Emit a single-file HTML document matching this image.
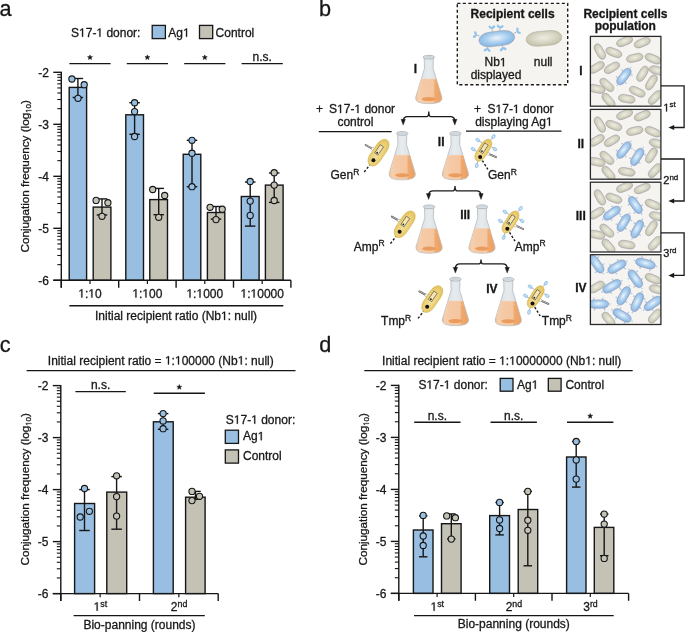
<!DOCTYPE html>
<html><head><meta charset="utf-8"><title>Figure</title>
<style>
html,body{margin:0;padding:0;background:#ffffff;width:685px;height:632px;overflow:hidden;}
svg{display:block;will-change:transform;}
text{font-family:"Liberation Sans",sans-serif;stroke:#1c1c1c;stroke-width:0.3px;}
tspan.o{fill:none;stroke:none;}
</style></head><body>
<svg width="685" height="632" viewBox="0 0 685 632">
<text x="-0.40" y="16.30" font-size="21.7" text-anchor="start" font-weight="normal" fill="#161616" >a</text>
<text x="319.00" y="16.10" font-size="21.7" text-anchor="start" font-weight="normal" fill="#161616" >b</text>
<text x="-0.20" y="351.60" font-size="21.7" text-anchor="start" font-weight="normal" fill="#161616" >c</text>
<text x="319.20" y="351.60" font-size="21.7" text-anchor="start" font-weight="normal" fill="#161616" >d</text>
<line x1="61.30" y1="71.70" x2="61.30" y2="287.70" stroke="#161616" stroke-width="1.4" />
<line x1="53.30" y1="280.30" x2="61.30" y2="280.30" stroke="#161616" stroke-width="1.4" />
<text x="49.00" y="284.70" font-size="12" text-anchor="end" font-weight="normal" fill="#161616" >-6</text>
<line x1="53.30" y1="228.30" x2="61.30" y2="228.30" stroke="#161616" stroke-width="1.4" />
<text x="49.00" y="232.70" font-size="12" text-anchor="end" font-weight="normal" fill="#161616" >-5</text>
<line x1="53.30" y1="176.30" x2="61.30" y2="176.30" stroke="#161616" stroke-width="1.4" />
<text x="49.00" y="180.70" font-size="12" text-anchor="end" font-weight="normal" fill="#161616" >-4</text>
<line x1="53.30" y1="124.30" x2="61.30" y2="124.30" stroke="#161616" stroke-width="1.4" />
<text x="49.00" y="128.70" font-size="12" text-anchor="end" font-weight="normal" fill="#161616" >-3</text>
<line x1="53.30" y1="72.30" x2="61.30" y2="72.30" stroke="#161616" stroke-width="1.4" />
<text x="49.00" y="76.70" font-size="12" text-anchor="end" font-weight="normal" fill="#161616" >-2</text>
<line x1="57.30" y1="264.65" x2="61.30" y2="264.65" stroke="#161616" stroke-width="1.1" />
<line x1="57.30" y1="255.49" x2="61.30" y2="255.49" stroke="#161616" stroke-width="1.1" />
<line x1="57.30" y1="248.99" x2="61.30" y2="248.99" stroke="#161616" stroke-width="1.1" />
<line x1="57.30" y1="243.95" x2="61.30" y2="243.95" stroke="#161616" stroke-width="1.1" />
<line x1="57.30" y1="239.84" x2="61.30" y2="239.84" stroke="#161616" stroke-width="1.1" />
<line x1="57.30" y1="236.35" x2="61.30" y2="236.35" stroke="#161616" stroke-width="1.1" />
<line x1="57.30" y1="233.34" x2="61.30" y2="233.34" stroke="#161616" stroke-width="1.1" />
<line x1="57.30" y1="230.68" x2="61.30" y2="230.68" stroke="#161616" stroke-width="1.1" />
<line x1="57.30" y1="212.65" x2="61.30" y2="212.65" stroke="#161616" stroke-width="1.1" />
<line x1="57.30" y1="203.49" x2="61.30" y2="203.49" stroke="#161616" stroke-width="1.1" />
<line x1="57.30" y1="196.99" x2="61.30" y2="196.99" stroke="#161616" stroke-width="1.1" />
<line x1="57.30" y1="191.95" x2="61.30" y2="191.95" stroke="#161616" stroke-width="1.1" />
<line x1="57.30" y1="187.84" x2="61.30" y2="187.84" stroke="#161616" stroke-width="1.1" />
<line x1="57.30" y1="184.35" x2="61.30" y2="184.35" stroke="#161616" stroke-width="1.1" />
<line x1="57.30" y1="181.34" x2="61.30" y2="181.34" stroke="#161616" stroke-width="1.1" />
<line x1="57.30" y1="178.68" x2="61.30" y2="178.68" stroke="#161616" stroke-width="1.1" />
<line x1="57.30" y1="160.65" x2="61.30" y2="160.65" stroke="#161616" stroke-width="1.1" />
<line x1="57.30" y1="151.49" x2="61.30" y2="151.49" stroke="#161616" stroke-width="1.1" />
<line x1="57.30" y1="144.99" x2="61.30" y2="144.99" stroke="#161616" stroke-width="1.1" />
<line x1="57.30" y1="139.95" x2="61.30" y2="139.95" stroke="#161616" stroke-width="1.1" />
<line x1="57.30" y1="135.84" x2="61.30" y2="135.84" stroke="#161616" stroke-width="1.1" />
<line x1="57.30" y1="132.35" x2="61.30" y2="132.35" stroke="#161616" stroke-width="1.1" />
<line x1="57.30" y1="129.34" x2="61.30" y2="129.34" stroke="#161616" stroke-width="1.1" />
<line x1="57.30" y1="126.68" x2="61.30" y2="126.68" stroke="#161616" stroke-width="1.1" />
<line x1="57.30" y1="108.65" x2="61.30" y2="108.65" stroke="#161616" stroke-width="1.1" />
<line x1="57.30" y1="99.49" x2="61.30" y2="99.49" stroke="#161616" stroke-width="1.1" />
<line x1="57.30" y1="92.99" x2="61.30" y2="92.99" stroke="#161616" stroke-width="1.1" />
<line x1="57.30" y1="87.95" x2="61.30" y2="87.95" stroke="#161616" stroke-width="1.1" />
<line x1="57.30" y1="83.84" x2="61.30" y2="83.84" stroke="#161616" stroke-width="1.1" />
<line x1="57.30" y1="80.35" x2="61.30" y2="80.35" stroke="#161616" stroke-width="1.1" />
<line x1="57.30" y1="77.34" x2="61.30" y2="77.34" stroke="#161616" stroke-width="1.1" />
<line x1="57.30" y1="74.68" x2="61.30" y2="74.68" stroke="#161616" stroke-width="1.1" />
<text transform="translate(29.00,176.30) rotate(-90)" font-size="11.7" text-anchor="middle" fill="#161616">Conjugation frequency (log<tspan font-size="8" dy="2.4"><tspan class="o">1</tspan>0</tspan><tspan dy="-2.4">)</tspan></text>
<rect x="69.20" y="87.40" width="17.40" height="192.90" fill="#98bee1" stroke="#161616" stroke-width="1.4"/>
<rect x="93.20" y="207.10" width="17.70" height="73.20" fill="#c4c1b5" stroke="#161616" stroke-width="1.4"/>
<rect x="125.80" y="114.80" width="17.70" height="165.50" fill="#98bee1" stroke="#161616" stroke-width="1.4"/>
<rect x="149.80" y="199.60" width="17.70" height="80.70" fill="#c4c1b5" stroke="#161616" stroke-width="1.4"/>
<rect x="183.20" y="154.30" width="17.60" height="126.00" fill="#98bee1" stroke="#161616" stroke-width="1.4"/>
<rect x="207.40" y="212.50" width="17.40" height="67.80" fill="#c4c1b5" stroke="#161616" stroke-width="1.4"/>
<rect x="241.30" y="196.50" width="17.80" height="83.80" fill="#98bee1" stroke="#161616" stroke-width="1.4"/>
<rect x="265.40" y="185.10" width="17.70" height="95.20" fill="#c4c1b5" stroke="#161616" stroke-width="1.4"/>
<line x1="53.30" y1="280.30" x2="290.90" y2="280.30" stroke="#161616" stroke-width="1.4" />
<line x1="61.30" y1="280.30" x2="61.30" y2="287.70" stroke="#161616" stroke-width="1.4" />
<line x1="118.70" y1="280.30" x2="118.70" y2="287.70" stroke="#161616" stroke-width="1.4" />
<line x1="176.10" y1="280.30" x2="176.10" y2="287.70" stroke="#161616" stroke-width="1.4" />
<line x1="233.50" y1="280.30" x2="233.50" y2="287.70" stroke="#161616" stroke-width="1.4" />
<line x1="290.90" y1="280.30" x2="290.90" y2="287.70" stroke="#161616" stroke-width="1.4" />
<line x1="90.00" y1="280.30" x2="90.00" y2="283.90" stroke="#161616" stroke-width="1.2" />
<line x1="147.40" y1="280.30" x2="147.40" y2="283.90" stroke="#161616" stroke-width="1.2" />
<line x1="204.80" y1="280.30" x2="204.80" y2="283.90" stroke="#161616" stroke-width="1.2" />
<line x1="262.20" y1="280.30" x2="262.20" y2="283.90" stroke="#161616" stroke-width="1.2" />
<line x1="77.90" y1="78.50" x2="77.90" y2="97.50" stroke="#161616" stroke-width="1.4" />
<line x1="72.65" y1="78.50" x2="83.15" y2="78.50" stroke="#161616" stroke-width="1.4" />
<line x1="72.65" y1="97.50" x2="83.15" y2="97.50" stroke="#161616" stroke-width="1.4" />
<circle cx="71.90" cy="79.00" r="3.1" fill="#98bee1" stroke="#161616" stroke-width="1.1"/>
<circle cx="84.20" cy="84.70" r="3.1" fill="#98bee1" stroke="#161616" stroke-width="1.1"/>
<circle cx="78.00" cy="98.30" r="3.1" fill="#98bee1" stroke="#161616" stroke-width="1.1"/>
<line x1="102.00" y1="198.90" x2="102.00" y2="215.00" stroke="#161616" stroke-width="1.4" />
<line x1="96.75" y1="198.90" x2="107.25" y2="198.90" stroke="#161616" stroke-width="1.4" />
<line x1="96.75" y1="215.00" x2="107.25" y2="215.00" stroke="#161616" stroke-width="1.4" />
<circle cx="96.10" cy="200.40" r="3.1" fill="#c4c1b5" stroke="#161616" stroke-width="1.1"/>
<circle cx="107.90" cy="202.70" r="3.1" fill="#c4c1b5" stroke="#161616" stroke-width="1.1"/>
<circle cx="102.00" cy="216.30" r="3.1" fill="#c4c1b5" stroke="#161616" stroke-width="1.1"/>
<line x1="134.60" y1="102.70" x2="134.60" y2="134.30" stroke="#161616" stroke-width="1.4" />
<line x1="129.35" y1="102.70" x2="139.85" y2="102.70" stroke="#161616" stroke-width="1.4" />
<line x1="129.35" y1="134.30" x2="139.85" y2="134.30" stroke="#161616" stroke-width="1.4" />
<circle cx="134.60" cy="102.70" r="3.1" fill="#98bee1" stroke="#161616" stroke-width="1.1"/>
<circle cx="134.60" cy="111.60" r="3.1" fill="#98bee1" stroke="#161616" stroke-width="1.1"/>
<circle cx="134.60" cy="136.50" r="3.1" fill="#98bee1" stroke="#161616" stroke-width="1.1"/>
<line x1="158.70" y1="188.40" x2="158.70" y2="214.70" stroke="#161616" stroke-width="1.4" />
<line x1="153.45" y1="188.40" x2="163.95" y2="188.40" stroke="#161616" stroke-width="1.4" />
<line x1="153.45" y1="214.70" x2="163.95" y2="214.70" stroke="#161616" stroke-width="1.4" />
<circle cx="152.70" cy="189.50" r="3.1" fill="#c4c1b5" stroke="#161616" stroke-width="1.1"/>
<circle cx="164.70" cy="195.50" r="3.1" fill="#c4c1b5" stroke="#161616" stroke-width="1.1"/>
<circle cx="158.70" cy="217.30" r="3.1" fill="#c4c1b5" stroke="#161616" stroke-width="1.1"/>
<line x1="192.00" y1="140.30" x2="192.00" y2="186.70" stroke="#161616" stroke-width="1.4" />
<line x1="186.75" y1="140.30" x2="197.25" y2="140.30" stroke="#161616" stroke-width="1.4" />
<line x1="186.75" y1="186.70" x2="197.25" y2="186.70" stroke="#161616" stroke-width="1.4" />
<circle cx="192.00" cy="140.30" r="3.1" fill="#98bee1" stroke="#161616" stroke-width="1.1"/>
<circle cx="192.00" cy="153.20" r="3.1" fill="#98bee1" stroke="#161616" stroke-width="1.1"/>
<circle cx="192.00" cy="186.70" r="3.1" fill="#98bee1" stroke="#161616" stroke-width="1.1"/>
<line x1="216.00" y1="206.50" x2="216.00" y2="219.10" stroke="#161616" stroke-width="1.4" />
<line x1="210.75" y1="206.50" x2="221.25" y2="206.50" stroke="#161616" stroke-width="1.4" />
<line x1="210.75" y1="219.10" x2="221.25" y2="219.10" stroke="#161616" stroke-width="1.4" />
<circle cx="210.10" cy="207.30" r="3.1" fill="#c4c1b5" stroke="#161616" stroke-width="1.1"/>
<circle cx="222.20" cy="209.20" r="3.1" fill="#c4c1b5" stroke="#161616" stroke-width="1.1"/>
<circle cx="216.00" cy="219.60" r="3.1" fill="#c4c1b5" stroke="#161616" stroke-width="1.1"/>
<line x1="250.20" y1="182.00" x2="250.20" y2="226.10" stroke="#161616" stroke-width="1.4" />
<line x1="244.95" y1="182.00" x2="255.45" y2="182.00" stroke="#161616" stroke-width="1.4" />
<line x1="244.95" y1="226.10" x2="255.45" y2="226.10" stroke="#161616" stroke-width="1.4" />
<circle cx="250.20" cy="181.50" r="3.1" fill="#98bee1" stroke="#161616" stroke-width="1.1"/>
<circle cx="250.20" cy="201.10" r="3.1" fill="#98bee1" stroke="#161616" stroke-width="1.1"/>
<circle cx="250.20" cy="215.40" r="3.1" fill="#98bee1" stroke="#161616" stroke-width="1.1"/>
<line x1="274.20" y1="173.00" x2="274.20" y2="202.40" stroke="#161616" stroke-width="1.4" />
<line x1="268.95" y1="173.00" x2="279.45" y2="173.00" stroke="#161616" stroke-width="1.4" />
<line x1="268.95" y1="202.40" x2="279.45" y2="202.40" stroke="#161616" stroke-width="1.4" />
<circle cx="274.20" cy="172.70" r="3.1" fill="#c4c1b5" stroke="#161616" stroke-width="1.1"/>
<circle cx="274.20" cy="185.10" r="3.1" fill="#c4c1b5" stroke="#161616" stroke-width="1.1"/>
<circle cx="274.20" cy="200.50" r="3.1" fill="#c4c1b5" stroke="#161616" stroke-width="1.1"/>
<text x="90.00" y="297.60" font-size="12" text-anchor="middle" font-weight="normal" fill="#161616" ><tspan class="o">1</tspan>:<tspan class="o">1</tspan>0</text>
<text x="147.40" y="297.60" font-size="12" text-anchor="middle" font-weight="normal" fill="#161616" ><tspan class="o">1</tspan>:<tspan class="o">1</tspan>00</text>
<text x="204.80" y="297.60" font-size="12" text-anchor="middle" font-weight="normal" fill="#161616" ><tspan class="o">1</tspan>:<tspan class="o">1</tspan>000</text>
<text x="262.20" y="297.60" font-size="12" text-anchor="middle" font-weight="normal" fill="#161616" ><tspan class="o">1</tspan>:<tspan class="o">1</tspan>0000</text>
<line x1="69.40" y1="305.70" x2="283.30" y2="305.70" stroke="#161616" stroke-width="1.4" />
<text x="176.00" y="319.90" font-size="12" text-anchor="middle" font-weight="normal" fill="#161616" >Initial recipient ratio (Nb<tspan class="o">1</tspan>: null)</text>
<text x="71.00" y="36.80" font-size="12" text-anchor="start" font-weight="normal" fill="#161616" >S<tspan class="o">1</tspan>7-<tspan class="o">1</tspan> donor:</text>
<rect x="152.20" y="25.40" width="13.2" height="13.2" fill="#98bee1" stroke="#161616" stroke-width="1.3"/>
<text x="168.30" y="36.80" font-size="12" text-anchor="start" font-weight="normal" fill="#161616" >Ag<tspan class="o">1</tspan></text>
<rect x="199.50" y="25.40" width="13.2" height="13.2" fill="#c4c1b5" stroke="#161616" stroke-width="1.3"/>
<text x="215.60" y="36.80" font-size="12" text-anchor="start" font-weight="normal" fill="#161616" >Control</text>
<line x1="69.40" y1="63.60" x2="110.60" y2="63.60" stroke="#161616" stroke-width="1.4" />
<polygon points="90.00,54.90 90.66,56.59 92.47,56.70 91.07,57.85 91.53,59.60 90.00,58.62 88.47,59.60 88.93,57.85 87.53,56.70 89.34,56.59" fill="#161616" stroke="#161616" stroke-width="0.5" stroke-linejoin="round"/>
<line x1="126.80" y1="63.60" x2="168.00" y2="63.60" stroke="#161616" stroke-width="1.4" />
<polygon points="147.40,54.90 148.06,56.59 149.87,56.70 148.47,57.85 148.93,59.60 147.40,58.62 145.87,59.60 146.33,57.85 144.93,56.70 146.74,56.59" fill="#161616" stroke="#161616" stroke-width="0.5" stroke-linejoin="round"/>
<line x1="184.20" y1="63.60" x2="225.40" y2="63.60" stroke="#161616" stroke-width="1.4" />
<polygon points="204.80,54.90 205.46,56.59 207.27,56.70 205.87,57.85 206.33,59.60 204.80,58.62 203.27,59.60 203.73,57.85 202.33,56.70 204.14,56.59" fill="#161616" stroke="#161616" stroke-width="0.5" stroke-linejoin="round"/>
<line x1="241.60" y1="63.60" x2="282.80" y2="63.60" stroke="#161616" stroke-width="1.4" />
<text x="262.20" y="61.00" font-size="12" text-anchor="middle" font-weight="normal" fill="#161616" >n.s.</text>
<line x1="60.80" y1="385.00" x2="60.80" y2="601.00" stroke="#161616" stroke-width="1.4" />
<line x1="52.80" y1="593.60" x2="60.80" y2="593.60" stroke="#161616" stroke-width="1.4" />
<text x="48.50" y="598.00" font-size="12" text-anchor="end" font-weight="normal" fill="#161616" >-6</text>
<line x1="52.80" y1="541.60" x2="60.80" y2="541.60" stroke="#161616" stroke-width="1.4" />
<text x="48.50" y="546.00" font-size="12" text-anchor="end" font-weight="normal" fill="#161616" >-5</text>
<line x1="52.80" y1="489.60" x2="60.80" y2="489.60" stroke="#161616" stroke-width="1.4" />
<text x="48.50" y="494.00" font-size="12" text-anchor="end" font-weight="normal" fill="#161616" >-4</text>
<line x1="52.80" y1="437.60" x2="60.80" y2="437.60" stroke="#161616" stroke-width="1.4" />
<text x="48.50" y="442.00" font-size="12" text-anchor="end" font-weight="normal" fill="#161616" >-3</text>
<line x1="52.80" y1="385.60" x2="60.80" y2="385.60" stroke="#161616" stroke-width="1.4" />
<text x="48.50" y="390.00" font-size="12" text-anchor="end" font-weight="normal" fill="#161616" >-2</text>
<line x1="56.80" y1="577.95" x2="60.80" y2="577.95" stroke="#161616" stroke-width="1.1" />
<line x1="56.80" y1="568.79" x2="60.80" y2="568.79" stroke="#161616" stroke-width="1.1" />
<line x1="56.80" y1="562.29" x2="60.80" y2="562.29" stroke="#161616" stroke-width="1.1" />
<line x1="56.80" y1="557.25" x2="60.80" y2="557.25" stroke="#161616" stroke-width="1.1" />
<line x1="56.80" y1="553.14" x2="60.80" y2="553.14" stroke="#161616" stroke-width="1.1" />
<line x1="56.80" y1="549.65" x2="60.80" y2="549.65" stroke="#161616" stroke-width="1.1" />
<line x1="56.80" y1="546.64" x2="60.80" y2="546.64" stroke="#161616" stroke-width="1.1" />
<line x1="56.80" y1="543.98" x2="60.80" y2="543.98" stroke="#161616" stroke-width="1.1" />
<line x1="56.80" y1="525.95" x2="60.80" y2="525.95" stroke="#161616" stroke-width="1.1" />
<line x1="56.80" y1="516.79" x2="60.80" y2="516.79" stroke="#161616" stroke-width="1.1" />
<line x1="56.80" y1="510.29" x2="60.80" y2="510.29" stroke="#161616" stroke-width="1.1" />
<line x1="56.80" y1="505.25" x2="60.80" y2="505.25" stroke="#161616" stroke-width="1.1" />
<line x1="56.80" y1="501.14" x2="60.80" y2="501.14" stroke="#161616" stroke-width="1.1" />
<line x1="56.80" y1="497.65" x2="60.80" y2="497.65" stroke="#161616" stroke-width="1.1" />
<line x1="56.80" y1="494.64" x2="60.80" y2="494.64" stroke="#161616" stroke-width="1.1" />
<line x1="56.80" y1="491.98" x2="60.80" y2="491.98" stroke="#161616" stroke-width="1.1" />
<line x1="56.80" y1="473.95" x2="60.80" y2="473.95" stroke="#161616" stroke-width="1.1" />
<line x1="56.80" y1="464.79" x2="60.80" y2="464.79" stroke="#161616" stroke-width="1.1" />
<line x1="56.80" y1="458.29" x2="60.80" y2="458.29" stroke="#161616" stroke-width="1.1" />
<line x1="56.80" y1="453.25" x2="60.80" y2="453.25" stroke="#161616" stroke-width="1.1" />
<line x1="56.80" y1="449.14" x2="60.80" y2="449.14" stroke="#161616" stroke-width="1.1" />
<line x1="56.80" y1="445.65" x2="60.80" y2="445.65" stroke="#161616" stroke-width="1.1" />
<line x1="56.80" y1="442.64" x2="60.80" y2="442.64" stroke="#161616" stroke-width="1.1" />
<line x1="56.80" y1="439.98" x2="60.80" y2="439.98" stroke="#161616" stroke-width="1.1" />
<line x1="56.80" y1="421.95" x2="60.80" y2="421.95" stroke="#161616" stroke-width="1.1" />
<line x1="56.80" y1="412.79" x2="60.80" y2="412.79" stroke="#161616" stroke-width="1.1" />
<line x1="56.80" y1="406.29" x2="60.80" y2="406.29" stroke="#161616" stroke-width="1.1" />
<line x1="56.80" y1="401.25" x2="60.80" y2="401.25" stroke="#161616" stroke-width="1.1" />
<line x1="56.80" y1="397.14" x2="60.80" y2="397.14" stroke="#161616" stroke-width="1.1" />
<line x1="56.80" y1="393.65" x2="60.80" y2="393.65" stroke="#161616" stroke-width="1.1" />
<line x1="56.80" y1="390.64" x2="60.80" y2="390.64" stroke="#161616" stroke-width="1.1" />
<line x1="56.80" y1="387.98" x2="60.80" y2="387.98" stroke="#161616" stroke-width="1.1" />
<text transform="translate(29.00,489.30) rotate(-90)" font-size="11.7" text-anchor="middle" fill="#161616">Conjugation frequency (log<tspan font-size="8" dy="2.4"><tspan class="o">1</tspan>0</tspan><tspan dy="-2.4">)</tspan></text>
<rect x="74.60" y="503.50" width="20.00" height="90.10" fill="#98bee1" stroke="#161616" stroke-width="1.4"/>
<rect x="106.80" y="492.10" width="19.90" height="101.50" fill="#c4c1b5" stroke="#161616" stroke-width="1.4"/>
<rect x="153.40" y="421.80" width="19.80" height="171.80" fill="#98bee1" stroke="#161616" stroke-width="1.4"/>
<rect x="185.60" y="497.20" width="19.50" height="96.40" fill="#c4c1b5" stroke="#161616" stroke-width="1.4"/>
<line x1="52.80" y1="593.60" x2="218.20" y2="593.60" stroke="#161616" stroke-width="1.4" />
<line x1="60.80" y1="593.60" x2="60.80" y2="601.00" stroke="#161616" stroke-width="1.4" />
<line x1="139.50" y1="593.60" x2="139.50" y2="601.00" stroke="#161616" stroke-width="1.4" />
<line x1="218.20" y1="593.60" x2="218.20" y2="601.00" stroke="#161616" stroke-width="1.4" />
<line x1="100.15" y1="593.60" x2="100.15" y2="597.20" stroke="#161616" stroke-width="1.2" />
<line x1="178.85" y1="593.60" x2="178.85" y2="597.20" stroke="#161616" stroke-width="1.2" />
<line x1="84.50" y1="489.60" x2="84.50" y2="530.50" stroke="#161616" stroke-width="1.4" />
<line x1="79.25" y1="489.60" x2="89.75" y2="489.60" stroke="#161616" stroke-width="1.4" />
<line x1="79.25" y1="530.50" x2="89.75" y2="530.50" stroke="#161616" stroke-width="1.4" />
<circle cx="84.50" cy="488.50" r="3.1" fill="#98bee1" stroke="#161616" stroke-width="1.1"/>
<circle cx="89.40" cy="511.30" r="3.1" fill="#98bee1" stroke="#161616" stroke-width="1.1"/>
<circle cx="80.20" cy="517.00" r="3.1" fill="#98bee1" stroke="#161616" stroke-width="1.1"/>
<line x1="116.60" y1="476.60" x2="116.60" y2="529.20" stroke="#161616" stroke-width="1.4" />
<line x1="111.35" y1="476.60" x2="121.85" y2="476.60" stroke="#161616" stroke-width="1.4" />
<line x1="111.35" y1="529.20" x2="121.85" y2="529.20" stroke="#161616" stroke-width="1.4" />
<circle cx="116.60" cy="475.80" r="3.1" fill="#c4c1b5" stroke="#161616" stroke-width="1.1"/>
<circle cx="116.60" cy="496.60" r="3.1" fill="#c4c1b5" stroke="#161616" stroke-width="1.1"/>
<circle cx="116.60" cy="516.10" r="3.1" fill="#c4c1b5" stroke="#161616" stroke-width="1.1"/>
<line x1="163.10" y1="413.60" x2="163.10" y2="429.30" stroke="#161616" stroke-width="1.4" />
<line x1="157.85" y1="413.60" x2="168.35" y2="413.60" stroke="#161616" stroke-width="1.4" />
<line x1="157.85" y1="429.30" x2="168.35" y2="429.30" stroke="#161616" stroke-width="1.4" />
<circle cx="163.10" cy="413.60" r="3.1" fill="#98bee1" stroke="#161616" stroke-width="1.1"/>
<circle cx="163.10" cy="420.90" r="3.1" fill="#98bee1" stroke="#161616" stroke-width="1.1"/>
<circle cx="163.10" cy="428.70" r="3.1" fill="#98bee1" stroke="#161616" stroke-width="1.1"/>
<line x1="195.50" y1="491.40" x2="195.50" y2="499.30" stroke="#161616" stroke-width="1.4" />
<line x1="190.25" y1="491.40" x2="200.75" y2="491.40" stroke="#161616" stroke-width="1.4" />
<line x1="190.25" y1="499.30" x2="200.75" y2="499.30" stroke="#161616" stroke-width="1.4" />
<circle cx="192.00" cy="491.40" r="3.1" fill="#c4c1b5" stroke="#161616" stroke-width="1.1"/>
<circle cx="199.50" cy="496.30" r="3.1" fill="#c4c1b5" stroke="#161616" stroke-width="1.1"/>
<circle cx="192.00" cy="500.60" r="3.1" fill="#c4c1b5" stroke="#161616" stroke-width="1.1"/>
<text x="100.35" y="610.70" font-size="12" text-anchor="middle" fill="#161616"><tspan class="o">1</tspan><tspan font-size="8.8" dy="-4.0">st</tspan></text>
<text x="179.05" y="610.70" font-size="12" text-anchor="middle" fill="#161616">2<tspan font-size="8.8" dy="-4.0">nd</tspan></text>
<line x1="73.60" y1="615.60" x2="204.80" y2="615.60" stroke="#161616" stroke-width="1.4" />
<text x="139.50" y="628.60" font-size="12" text-anchor="middle" font-weight="normal" fill="#161616" >Bio-panning (rounds)</text>
<text x="160.80" y="364.50" font-size="12" text-anchor="middle" font-weight="normal" fill="#161616" >Initial recipient ratio = <tspan class="o">1</tspan>:<tspan class="o">1</tspan>00000 (Nb<tspan class="o">1</tspan>: null)</text>
<line x1="26.60" y1="370.60" x2="295.50" y2="370.60" stroke="#161616" stroke-width="1.4" />
<line x1="75.40" y1="391.60" x2="125.80" y2="391.60" stroke="#161616" stroke-width="1.4" />
<text x="100.60" y="389.00" font-size="12" text-anchor="middle" font-weight="normal" fill="#161616" >n.s.</text>
<line x1="153.70" y1="393.30" x2="204.90" y2="393.30" stroke="#161616" stroke-width="1.4" />
<polygon points="179.30,384.60 179.96,386.29 181.77,386.40 180.37,387.55 180.83,389.30 179.30,388.32 177.77,389.30 178.23,387.55 176.83,386.40 178.64,386.29" fill="#161616" stroke="#161616" stroke-width="0.5" stroke-linejoin="round"/>
<text x="225.80" y="423.70" font-size="12" text-anchor="start" font-weight="normal" fill="#161616" >S<tspan class="o">1</tspan>7-<tspan class="o">1</tspan> donor:</text>
<rect x="225.30" y="430.20" width="13.2" height="13.2" fill="#98bee1" stroke="#161616" stroke-width="1.3"/>
<text x="243.00" y="440.20" font-size="12" text-anchor="start" font-weight="normal" fill="#161616" >Ag<tspan class="o">1</tspan></text>
<rect x="225.30" y="449.90" width="13.2" height="13.2" fill="#c4c1b5" stroke="#161616" stroke-width="1.3"/>
<text x="243.00" y="460.10" font-size="12" text-anchor="start" font-weight="normal" fill="#161616" >Control</text>
<line x1="398.80" y1="384.80" x2="398.80" y2="600.80" stroke="#161616" stroke-width="1.4" />
<line x1="390.80" y1="593.40" x2="398.80" y2="593.40" stroke="#161616" stroke-width="1.4" />
<text x="386.50" y="597.80" font-size="12" text-anchor="end" font-weight="normal" fill="#161616" >-6</text>
<line x1="390.80" y1="541.40" x2="398.80" y2="541.40" stroke="#161616" stroke-width="1.4" />
<text x="386.50" y="545.80" font-size="12" text-anchor="end" font-weight="normal" fill="#161616" >-5</text>
<line x1="390.80" y1="489.40" x2="398.80" y2="489.40" stroke="#161616" stroke-width="1.4" />
<text x="386.50" y="493.80" font-size="12" text-anchor="end" font-weight="normal" fill="#161616" >-4</text>
<line x1="390.80" y1="437.40" x2="398.80" y2="437.40" stroke="#161616" stroke-width="1.4" />
<text x="386.50" y="441.80" font-size="12" text-anchor="end" font-weight="normal" fill="#161616" >-3</text>
<line x1="390.80" y1="385.40" x2="398.80" y2="385.40" stroke="#161616" stroke-width="1.4" />
<text x="386.50" y="389.80" font-size="12" text-anchor="end" font-weight="normal" fill="#161616" >-2</text>
<line x1="394.80" y1="577.75" x2="398.80" y2="577.75" stroke="#161616" stroke-width="1.1" />
<line x1="394.80" y1="568.59" x2="398.80" y2="568.59" stroke="#161616" stroke-width="1.1" />
<line x1="394.80" y1="562.09" x2="398.80" y2="562.09" stroke="#161616" stroke-width="1.1" />
<line x1="394.80" y1="557.05" x2="398.80" y2="557.05" stroke="#161616" stroke-width="1.1" />
<line x1="394.80" y1="552.94" x2="398.80" y2="552.94" stroke="#161616" stroke-width="1.1" />
<line x1="394.80" y1="549.45" x2="398.80" y2="549.45" stroke="#161616" stroke-width="1.1" />
<line x1="394.80" y1="546.44" x2="398.80" y2="546.44" stroke="#161616" stroke-width="1.1" />
<line x1="394.80" y1="543.78" x2="398.80" y2="543.78" stroke="#161616" stroke-width="1.1" />
<line x1="394.80" y1="525.75" x2="398.80" y2="525.75" stroke="#161616" stroke-width="1.1" />
<line x1="394.80" y1="516.59" x2="398.80" y2="516.59" stroke="#161616" stroke-width="1.1" />
<line x1="394.80" y1="510.09" x2="398.80" y2="510.09" stroke="#161616" stroke-width="1.1" />
<line x1="394.80" y1="505.05" x2="398.80" y2="505.05" stroke="#161616" stroke-width="1.1" />
<line x1="394.80" y1="500.94" x2="398.80" y2="500.94" stroke="#161616" stroke-width="1.1" />
<line x1="394.80" y1="497.45" x2="398.80" y2="497.45" stroke="#161616" stroke-width="1.1" />
<line x1="394.80" y1="494.44" x2="398.80" y2="494.44" stroke="#161616" stroke-width="1.1" />
<line x1="394.80" y1="491.78" x2="398.80" y2="491.78" stroke="#161616" stroke-width="1.1" />
<line x1="394.80" y1="473.75" x2="398.80" y2="473.75" stroke="#161616" stroke-width="1.1" />
<line x1="394.80" y1="464.59" x2="398.80" y2="464.59" stroke="#161616" stroke-width="1.1" />
<line x1="394.80" y1="458.09" x2="398.80" y2="458.09" stroke="#161616" stroke-width="1.1" />
<line x1="394.80" y1="453.05" x2="398.80" y2="453.05" stroke="#161616" stroke-width="1.1" />
<line x1="394.80" y1="448.94" x2="398.80" y2="448.94" stroke="#161616" stroke-width="1.1" />
<line x1="394.80" y1="445.45" x2="398.80" y2="445.45" stroke="#161616" stroke-width="1.1" />
<line x1="394.80" y1="442.44" x2="398.80" y2="442.44" stroke="#161616" stroke-width="1.1" />
<line x1="394.80" y1="439.78" x2="398.80" y2="439.78" stroke="#161616" stroke-width="1.1" />
<line x1="394.80" y1="421.75" x2="398.80" y2="421.75" stroke="#161616" stroke-width="1.1" />
<line x1="394.80" y1="412.59" x2="398.80" y2="412.59" stroke="#161616" stroke-width="1.1" />
<line x1="394.80" y1="406.09" x2="398.80" y2="406.09" stroke="#161616" stroke-width="1.1" />
<line x1="394.80" y1="401.05" x2="398.80" y2="401.05" stroke="#161616" stroke-width="1.1" />
<line x1="394.80" y1="396.94" x2="398.80" y2="396.94" stroke="#161616" stroke-width="1.1" />
<line x1="394.80" y1="393.45" x2="398.80" y2="393.45" stroke="#161616" stroke-width="1.1" />
<line x1="394.80" y1="390.44" x2="398.80" y2="390.44" stroke="#161616" stroke-width="1.1" />
<line x1="394.80" y1="387.78" x2="398.80" y2="387.78" stroke="#161616" stroke-width="1.1" />
<text transform="translate(366.60,489.30) rotate(-90)" font-size="11.7" text-anchor="middle" fill="#161616">Conjugation frequency (log<tspan font-size="8" dy="2.4"><tspan class="o">1</tspan>0</tspan><tspan dy="-2.4">)</tspan></text>
<rect x="413.40" y="530.00" width="19.60" height="63.40" fill="#98bee1" stroke="#161616" stroke-width="1.4"/>
<rect x="441.50" y="523.70" width="19.60" height="69.70" fill="#c4c1b5" stroke="#161616" stroke-width="1.4"/>
<rect x="489.70" y="515.60" width="19.80" height="77.80" fill="#98bee1" stroke="#161616" stroke-width="1.4"/>
<rect x="518.20" y="509.50" width="19.50" height="83.90" fill="#c4c1b5" stroke="#161616" stroke-width="1.4"/>
<rect x="566.60" y="457.00" width="19.40" height="136.40" fill="#98bee1" stroke="#161616" stroke-width="1.4"/>
<rect x="594.30" y="527.40" width="19.50" height="66.00" fill="#c4c1b5" stroke="#161616" stroke-width="1.4"/>
<line x1="390.80" y1="593.40" x2="628.60" y2="593.40" stroke="#161616" stroke-width="1.4" />
<line x1="398.80" y1="593.40" x2="398.80" y2="600.80" stroke="#161616" stroke-width="1.4" />
<line x1="475.40" y1="593.40" x2="475.40" y2="600.80" stroke="#161616" stroke-width="1.4" />
<line x1="552.00" y1="593.40" x2="552.00" y2="600.80" stroke="#161616" stroke-width="1.4" />
<line x1="628.60" y1="593.40" x2="628.60" y2="600.80" stroke="#161616" stroke-width="1.4" />
<line x1="437.10" y1="593.40" x2="437.10" y2="597.00" stroke="#161616" stroke-width="1.2" />
<line x1="513.70" y1="593.40" x2="513.70" y2="597.00" stroke="#161616" stroke-width="1.2" />
<line x1="590.30" y1="593.40" x2="590.30" y2="597.00" stroke="#161616" stroke-width="1.2" />
<line x1="423.20" y1="515.90" x2="423.20" y2="556.80" stroke="#161616" stroke-width="1.4" />
<line x1="418.95" y1="515.90" x2="427.45" y2="515.90" stroke="#161616" stroke-width="1.4" />
<line x1="418.95" y1="556.80" x2="427.45" y2="556.80" stroke="#161616" stroke-width="1.4" />
<circle cx="423.20" cy="515.40" r="3.1" fill="#98bee1" stroke="#161616" stroke-width="1.1"/>
<circle cx="423.20" cy="536.00" r="3.1" fill="#98bee1" stroke="#161616" stroke-width="1.1"/>
<circle cx="423.20" cy="545.50" r="3.1" fill="#98bee1" stroke="#161616" stroke-width="1.1"/>
<line x1="451.30" y1="513.90" x2="451.30" y2="538.90" stroke="#161616" stroke-width="1.4" />
<line x1="447.05" y1="513.90" x2="455.55" y2="513.90" stroke="#161616" stroke-width="1.4" />
<line x1="447.05" y1="538.90" x2="455.55" y2="538.90" stroke="#161616" stroke-width="1.4" />
<circle cx="446.70" cy="515.90" r="3.1" fill="#c4c1b5" stroke="#161616" stroke-width="1.1"/>
<circle cx="455.40" cy="517.70" r="3.1" fill="#c4c1b5" stroke="#161616" stroke-width="1.1"/>
<circle cx="451.30" cy="539.10" r="3.1" fill="#c4c1b5" stroke="#161616" stroke-width="1.1"/>
<line x1="499.60" y1="502.50" x2="499.60" y2="534.90" stroke="#161616" stroke-width="1.4" />
<line x1="495.35" y1="502.50" x2="503.85" y2="502.50" stroke="#161616" stroke-width="1.4" />
<line x1="495.35" y1="534.90" x2="503.85" y2="534.90" stroke="#161616" stroke-width="1.4" />
<circle cx="499.60" cy="502.40" r="3.1" fill="#98bee1" stroke="#161616" stroke-width="1.1"/>
<circle cx="499.60" cy="519.90" r="3.1" fill="#98bee1" stroke="#161616" stroke-width="1.1"/>
<circle cx="499.60" cy="528.50" r="3.1" fill="#98bee1" stroke="#161616" stroke-width="1.1"/>
<line x1="527.80" y1="491.40" x2="527.80" y2="565.80" stroke="#161616" stroke-width="1.4" />
<line x1="523.55" y1="491.40" x2="532.05" y2="491.40" stroke="#161616" stroke-width="1.4" />
<line x1="523.55" y1="565.80" x2="532.05" y2="565.80" stroke="#161616" stroke-width="1.4" />
<circle cx="527.80" cy="491.40" r="3.1" fill="#c4c1b5" stroke="#161616" stroke-width="1.1"/>
<circle cx="527.80" cy="520.20" r="3.1" fill="#c4c1b5" stroke="#161616" stroke-width="1.1"/>
<circle cx="527.80" cy="530.30" r="3.1" fill="#c4c1b5" stroke="#161616" stroke-width="1.1"/>
<line x1="576.20" y1="441.50" x2="576.20" y2="487.10" stroke="#161616" stroke-width="1.4" />
<line x1="571.95" y1="441.50" x2="580.45" y2="441.50" stroke="#161616" stroke-width="1.4" />
<line x1="571.95" y1="487.10" x2="580.45" y2="487.10" stroke="#161616" stroke-width="1.4" />
<circle cx="576.20" cy="441.50" r="3.1" fill="#98bee1" stroke="#161616" stroke-width="1.1"/>
<circle cx="576.20" cy="459.90" r="3.1" fill="#98bee1" stroke="#161616" stroke-width="1.1"/>
<circle cx="576.20" cy="479.10" r="3.1" fill="#98bee1" stroke="#161616" stroke-width="1.1"/>
<line x1="604.20" y1="514.10" x2="604.20" y2="555.70" stroke="#161616" stroke-width="1.4" />
<line x1="599.95" y1="514.10" x2="608.45" y2="514.10" stroke="#161616" stroke-width="1.4" />
<line x1="599.95" y1="555.70" x2="608.45" y2="555.70" stroke="#161616" stroke-width="1.4" />
<circle cx="604.20" cy="514.10" r="3.1" fill="#c4c1b5" stroke="#161616" stroke-width="1.1"/>
<circle cx="604.20" cy="524.10" r="3.1" fill="#c4c1b5" stroke="#161616" stroke-width="1.1"/>
<circle cx="604.20" cy="558.40" r="3.1" fill="#c4c1b5" stroke="#161616" stroke-width="1.1"/>
<text x="437.30" y="610.70" font-size="12" text-anchor="middle" fill="#161616"><tspan class="o">1</tspan><tspan font-size="8.8" dy="-4.0">st</tspan></text>
<text x="513.90" y="610.70" font-size="12" text-anchor="middle" fill="#161616">2<tspan font-size="8.8" dy="-4.0">nd</tspan></text>
<text x="590.50" y="610.70" font-size="12" text-anchor="middle" fill="#161616">3<tspan font-size="8.8" dy="-4.0">rd</tspan></text>
<line x1="414.00" y1="615.60" x2="613.70" y2="615.60" stroke="#161616" stroke-width="1.4" />
<text x="513.80" y="628.40" font-size="12" text-anchor="middle" font-weight="normal" fill="#161616" >Bio-panning (rounds)</text>
<text x="501.70" y="364.80" font-size="12" text-anchor="middle" font-weight="normal" fill="#161616" >Initial recipient ratio = <tspan class="o">1</tspan>:<tspan class="o">1</tspan>0000000 (Nb<tspan class="o">1</tspan>: null)</text>
<line x1="364.30" y1="370.60" x2="632.70" y2="370.60" stroke="#161616" stroke-width="1.4" />
<line x1="414.20" y1="422.20" x2="460.50" y2="422.20" stroke="#161616" stroke-width="1.4" />
<text x="437.35" y="419.60" font-size="12" text-anchor="middle" font-weight="normal" fill="#161616" >n.s.</text>
<line x1="490.50" y1="422.20" x2="536.90" y2="422.20" stroke="#161616" stroke-width="1.4" />
<text x="513.70" y="419.60" font-size="12" text-anchor="middle" font-weight="normal" fill="#161616" >n.s.</text>
<line x1="567.00" y1="422.20" x2="613.40" y2="422.20" stroke="#161616" stroke-width="1.4" />
<polygon points="590.20,413.50 590.86,415.19 592.67,415.30 591.27,416.45 591.73,418.20 590.20,417.22 588.67,418.20 589.13,416.45 587.73,415.30 589.54,415.19" fill="#161616" stroke="#161616" stroke-width="0.5" stroke-linejoin="round"/>
<text x="418.40" y="388.80" font-size="12" text-anchor="start" font-weight="normal" fill="#161616" >S<tspan class="o">1</tspan>7-<tspan class="o">1</tspan> donor:</text>
<rect x="500.20" y="378.40" width="12.8" height="12.8" fill="#98bee1" stroke="#161616" stroke-width="1.3"/>
<text x="517.00" y="388.80" font-size="12" text-anchor="start" font-weight="normal" fill="#161616" >Ag<tspan class="o">1</tspan></text>
<rect x="548.30" y="378.40" width="12.8" height="12.8" fill="#c4c1b5" stroke="#161616" stroke-width="1.3"/>
<text x="565.40" y="388.80" font-size="12" text-anchor="start" font-weight="normal" fill="#161616" >Control</text>
<defs>
<radialGradient id="gGrey" cx="50%" cy="45%" r="55%"><stop offset="0" stop-color="#ecece2"/><stop offset="0.6" stop-color="#d7d6c4"/><stop offset="1" stop-color="#c2c1a9"/></radialGradient>
<radialGradient id="gBlue" cx="50%" cy="45%" r="55%"><stop offset="0" stop-color="#eaf3fb"/><stop offset="0.55" stop-color="#acd0ef"/><stop offset="1" stop-color="#84b6e2"/></radialGradient>
<radialGradient id="gYel" cx="45%" cy="50%" r="55%"><stop offset="0" stop-color="#f4e1a0"/><stop offset="0.7" stop-color="#ecd077"/><stop offset="1" stop-color="#e3c35e"/></radialGradient>
<radialGradient id="gDrop" cx="50%" cy="50%" r="55%"><stop offset="0" stop-color="#dcecfa"/><stop offset="1" stop-color="#8cc0ea"/></radialGradient>
<linearGradient id="gLiq" x1="0" y1="0" x2="1" y2="0"><stop offset="0" stop-color="#f1bf96"/><stop offset="0.1" stop-color="#f6cfae"/><stop offset="0.25" stop-color="#f5caa6"/><stop offset="0.68" stop-color="#f4c6a0"/><stop offset="0.74" stop-color="#efa96f"/><stop offset="1" stop-color="#eb9f63"/></linearGradient>
<linearGradient id="gGlass" x1="0" y1="0" x2="1" y2="0"><stop offset="0" stop-color="#d7dee2"/><stop offset="0.5" stop-color="#e6ebed"/><stop offset="1" stop-color="#d3dadf"/></linearGradient>
</defs>
<rect x="457.3" y="3.4" width="110.4" height="81.3" fill="#f5f4f0" stroke="#1a1a1a" stroke-width="1.4" stroke-dasharray="3.1 2.4"/>
<text x="512.60" y="17.50" font-size="12" text-anchor="middle" font-weight="bold" fill="#161616" >Recipient cells</text>
<path d="M492.34,31.70 L492.14,29.41" stroke="#9aa0ab" stroke-width="0.8" fill="none"/>
<path d="M489.61,26.82 Q492.14,29.41 494.19,26.42" stroke="#93c3ea" stroke-width="2.3" fill="none" stroke-linecap="round"/>
<path d="M499.76,31.10 L499.96,28.81" stroke="#9aa0ab" stroke-width="0.8" fill="none"/>
<path d="M497.91,25.82 Q499.96,28.81 502.49,26.22" stroke="#93c3ea" stroke-width="2.3" fill="none" stroke-linecap="round"/>
<path d="M479.48,35.93 L477.26,35.33" stroke="#9aa0ab" stroke-width="0.8" fill="none"/>
<path d="M473.96,36.83 Q477.26,35.33 475.15,32.39" stroke="#93c3ea" stroke-width="2.3" fill="none" stroke-linecap="round"/>
<path d="M514.16,33.23 L516.19,32.15" stroke="#9aa0ab" stroke-width="0.8" fill="none"/>
<path d="M517.58,28.81 Q516.19,32.15 519.74,32.87" stroke="#93c3ea" stroke-width="2.3" fill="none" stroke-linecap="round"/>
<path d="M487.54,45.50 L487.34,47.79" stroke="#9aa0ab" stroke-width="0.8" fill="none"/>
<path d="M489.39,50.78 Q487.34,47.79 484.81,50.38" stroke="#93c3ea" stroke-width="2.3" fill="none" stroke-linecap="round"/>
<path d="M501.87,44.72 L502.47,46.94" stroke="#9aa0ab" stroke-width="0.8" fill="none"/>
<path d="M505.41,49.05 Q502.47,46.94 500.97,50.24" stroke="#93c3ea" stroke-width="2.3" fill="none" stroke-linecap="round"/>
<rect x="478.8" y="31.4" width="36" height="14.6" rx="11" ry="7.3" transform="rotate(-7 496.8 38.7)" fill="url(#gBlue)" stroke="#a195a8" stroke-width="0.5"/>
<rect x="526.1" y="31.1" width="35.8" height="14.6" rx="11.5" ry="7.3" transform="rotate(-5 544 38.4)" fill="url(#gGrey)" stroke="#a9a792" stroke-width="0.5"/>
<text x="495.50" y="66.30" font-size="12" text-anchor="middle" font-weight="normal" fill="#161616" >Nb<tspan class="o">1</tspan></text>
<text x="496.00" y="79.10" font-size="12" text-anchor="middle" font-weight="normal" fill="#161616" >displayed</text>
<text x="543.20" y="66.30" font-size="12" text-anchor="middle" font-weight="normal" fill="#161616" >null</text>
<text x="625.40" y="17.50" font-size="12" text-anchor="middle" font-weight="bold" fill="#161616" >Recipient cells</text>
<text x="625.30" y="30.10" font-size="12" text-anchor="middle" font-weight="bold" fill="#161616" >population</text>
<path d="M424.20,58.00 L424.50,68.40 L415.80,96.90 Q414.90,100.40 418.30,102.20 Q422.80,103.70 428.80,103.70 Q434.80,103.70 439.30,102.20 Q442.70,100.40 441.80,96.90 L433.10,68.40 L433.40,58.00 Z" fill="url(#gGlass)" stroke="#aab3b8" stroke-width="0.7"/>
<path d="M421.29,78.90 L436.31,78.90 L441.40,96.90 Q442.20,100.20 439.10,101.80 Q434.80,103.30 428.80,103.30 Q422.80,103.30 418.50,101.80 Q415.40,100.20 416.20,96.90 Z" fill="url(#gLiq)"/>
<line x1="422.09" y1="82.40" x2="436.11" y2="82.40" stroke="#f3c7a3" stroke-width="0.5"/>
<line x1="421.59" y1="79.10" x2="436.01" y2="79.10" stroke="#f7d3b3" stroke-width="0.7"/>
<ellipse cx="428.80" cy="99.00" rx="7.0" ry="2.0" fill="#eb9b5c"/>
<ellipse cx="428.80" cy="57.20" rx="5.7" ry="1.9" fill="#e4e9ec" stroke="#9ba4aa" stroke-width="0.7"/>
<ellipse cx="428.80" cy="57.00" rx="4.2" ry="1.0" fill="#cdd5da"/>
<path d="M397.60,134.20 L397.90,144.60 L389.20,173.10 Q388.30,176.60 391.70,178.40 Q396.20,179.90 402.20,179.90 Q408.20,179.90 412.70,178.40 Q416.10,176.60 415.20,173.10 L406.50,144.60 L406.80,134.20 Z" fill="url(#gGlass)" stroke="#aab3b8" stroke-width="0.7"/>
<path d="M394.69,155.10 L409.71,155.10 L414.80,173.10 Q415.60,176.40 412.50,178.00 Q408.20,179.50 402.20,179.50 Q396.20,179.50 391.90,178.00 Q388.80,176.40 389.60,173.10 Z" fill="url(#gLiq)"/>
<line x1="395.49" y1="158.60" x2="409.51" y2="158.60" stroke="#f3c7a3" stroke-width="0.5"/>
<line x1="394.99" y1="155.30" x2="409.41" y2="155.30" stroke="#f7d3b3" stroke-width="0.7"/>
<ellipse cx="402.20" cy="175.20" rx="7.0" ry="2.0" fill="#eb9b5c"/>
<ellipse cx="402.20" cy="133.40" rx="5.7" ry="1.9" fill="#e4e9ec" stroke="#9ba4aa" stroke-width="0.7"/>
<ellipse cx="402.20" cy="133.20" rx="4.2" ry="1.0" fill="#cdd5da"/>
<path d="M450.80,134.20 L451.10,144.60 L442.40,173.10 Q441.50,176.60 444.90,178.40 Q449.40,179.90 455.40,179.90 Q461.40,179.90 465.90,178.40 Q469.30,176.60 468.40,173.10 L459.70,144.60 L460.00,134.20 Z" fill="url(#gGlass)" stroke="#aab3b8" stroke-width="0.7"/>
<path d="M447.89,155.10 L462.91,155.10 L468.00,173.10 Q468.80,176.40 465.70,178.00 Q461.40,179.50 455.40,179.50 Q449.40,179.50 445.10,178.00 Q442.00,176.40 442.80,173.10 Z" fill="url(#gLiq)"/>
<line x1="448.69" y1="158.60" x2="462.71" y2="158.60" stroke="#f3c7a3" stroke-width="0.5"/>
<line x1="448.19" y1="155.30" x2="462.61" y2="155.30" stroke="#f7d3b3" stroke-width="0.7"/>
<ellipse cx="455.40" cy="175.20" rx="7.0" ry="2.0" fill="#eb9b5c"/>
<ellipse cx="455.40" cy="133.40" rx="5.7" ry="1.9" fill="#e4e9ec" stroke="#9ba4aa" stroke-width="0.7"/>
<ellipse cx="455.40" cy="133.20" rx="4.2" ry="1.0" fill="#cdd5da"/>
<path d="M424.50,207.60 L424.80,218.00 L416.10,246.50 Q415.20,250.00 418.60,251.80 Q423.10,253.30 429.10,253.30 Q435.10,253.30 439.60,251.80 Q443.00,250.00 442.10,246.50 L433.40,218.00 L433.70,207.60 Z" fill="url(#gGlass)" stroke="#aab3b8" stroke-width="0.7"/>
<path d="M421.59,228.50 L436.61,228.50 L441.70,246.50 Q442.50,249.80 439.40,251.40 Q435.10,252.90 429.10,252.90 Q423.10,252.90 418.80,251.40 Q415.70,249.80 416.50,246.50 Z" fill="url(#gLiq)"/>
<line x1="422.39" y1="232.00" x2="436.41" y2="232.00" stroke="#f3c7a3" stroke-width="0.5"/>
<line x1="421.89" y1="228.70" x2="436.31" y2="228.70" stroke="#f7d3b3" stroke-width="0.7"/>
<ellipse cx="429.10" cy="248.60" rx="7.0" ry="2.0" fill="#eb9b5c"/>
<ellipse cx="429.10" cy="206.80" rx="5.7" ry="1.9" fill="#e4e9ec" stroke="#9ba4aa" stroke-width="0.7"/>
<ellipse cx="429.10" cy="206.60" rx="4.2" ry="1.0" fill="#cdd5da"/>
<path d="M477.40,207.60 L477.70,218.00 L469.00,246.50 Q468.10,250.00 471.50,251.80 Q476.00,253.30 482.00,253.30 Q488.00,253.30 492.50,251.80 Q495.90,250.00 495.00,246.50 L486.30,218.00 L486.60,207.60 Z" fill="url(#gGlass)" stroke="#aab3b8" stroke-width="0.7"/>
<path d="M474.49,228.50 L489.51,228.50 L494.60,246.50 Q495.40,249.80 492.30,251.40 Q488.00,252.90 482.00,252.90 Q476.00,252.90 471.70,251.40 Q468.60,249.80 469.40,246.50 Z" fill="url(#gLiq)"/>
<line x1="475.29" y1="232.00" x2="489.31" y2="232.00" stroke="#f3c7a3" stroke-width="0.5"/>
<line x1="474.79" y1="228.70" x2="489.21" y2="228.70" stroke="#f7d3b3" stroke-width="0.7"/>
<ellipse cx="482.00" cy="248.60" rx="7.0" ry="2.0" fill="#eb9b5c"/>
<ellipse cx="482.00" cy="206.80" rx="5.7" ry="1.9" fill="#e4e9ec" stroke="#9ba4aa" stroke-width="0.7"/>
<ellipse cx="482.00" cy="206.60" rx="4.2" ry="1.0" fill="#cdd5da"/>
<path d="M450.80,280.00 L451.10,290.40 L442.40,318.90 Q441.50,322.40 444.90,324.20 Q449.40,325.70 455.40,325.70 Q461.40,325.70 465.90,324.20 Q469.30,322.40 468.40,318.90 L459.70,290.40 L460.00,280.00 Z" fill="url(#gGlass)" stroke="#aab3b8" stroke-width="0.7"/>
<path d="M447.89,300.90 L462.91,300.90 L468.00,318.90 Q468.80,322.20 465.70,323.80 Q461.40,325.30 455.40,325.30 Q449.40,325.30 445.10,323.80 Q442.00,322.20 442.80,318.90 Z" fill="url(#gLiq)"/>
<line x1="448.69" y1="304.40" x2="462.71" y2="304.40" stroke="#f3c7a3" stroke-width="0.5"/>
<line x1="448.19" y1="301.10" x2="462.61" y2="301.10" stroke="#f7d3b3" stroke-width="0.7"/>
<ellipse cx="455.40" cy="321.00" rx="7.0" ry="2.0" fill="#eb9b5c"/>
<ellipse cx="455.40" cy="279.20" rx="5.7" ry="1.9" fill="#e4e9ec" stroke="#9ba4aa" stroke-width="0.7"/>
<ellipse cx="455.40" cy="279.00" rx="4.2" ry="1.0" fill="#cdd5da"/>
<path d="M503.70,280.20 L504.00,290.60 L495.30,319.10 Q494.40,322.60 497.80,324.40 Q502.30,325.90 508.30,325.90 Q514.30,325.90 518.80,324.40 Q522.20,322.60 521.30,319.10 L512.60,290.60 L512.90,280.20 Z" fill="url(#gGlass)" stroke="#aab3b8" stroke-width="0.7"/>
<path d="M500.79,301.10 L515.81,301.10 L520.90,319.10 Q521.70,322.40 518.60,324.00 Q514.30,325.50 508.30,325.50 Q502.30,325.50 498.00,324.00 Q494.90,322.40 495.70,319.10 Z" fill="url(#gLiq)"/>
<line x1="501.59" y1="304.60" x2="515.61" y2="304.60" stroke="#f3c7a3" stroke-width="0.5"/>
<line x1="501.09" y1="301.30" x2="515.51" y2="301.30" stroke="#f7d3b3" stroke-width="0.7"/>
<ellipse cx="508.30" cy="321.20" rx="7.0" ry="2.0" fill="#eb9b5c"/>
<ellipse cx="508.30" cy="279.40" rx="5.7" ry="1.9" fill="#e4e9ec" stroke="#9ba4aa" stroke-width="0.7"/>
<ellipse cx="508.30" cy="279.20" rx="4.2" ry="1.0" fill="#cdd5da"/>
<text x="415.50" y="72.60" font-size="12" text-anchor="middle" font-weight="bold" fill="#161616" >I</text>
<text x="441.20" y="146.00" font-size="12" text-anchor="middle" font-weight="bold" fill="#161616" >II</text>
<text x="465.20" y="218.50" font-size="12" text-anchor="middle" font-weight="bold" fill="#161616" >III</text>
<text x="491.90" y="292.80" font-size="12" text-anchor="middle" font-weight="bold" fill="#161616" >IV</text>
<path d="M403.20,120.60 L403.20,121.20 Q403.20,116.60 407.80,116.60 L426.80,116.60 Q428.80,116.60 428.80,111.50 Q428.80,116.60 430.80,116.60 L450.20,116.60 Q454.80,116.60 454.80,121.20 L454.80,120.60" fill="none" stroke="#1a1a1a" stroke-width="1.35"/>
<path d="M401.00,119.30 L405.40,119.30 L403.20,125.10 Z" fill="#1a1a1a" stroke="#1a1a1a" stroke-width="0.4" stroke-linejoin="round"/>
<path d="M452.60,119.30 L457.00,119.30 L454.80,125.10 Z" fill="#1a1a1a" stroke="#1a1a1a" stroke-width="0.4" stroke-linejoin="round"/>
<path d="M428.60,194.90 L428.60,195.50 Q428.60,190.90 433.20,190.90 L453.00,190.90 Q455.00,190.90 455.00,186.10 Q455.00,190.90 457.00,190.90 L476.40,190.90 Q481.00,190.90 481.00,195.50 L481.00,194.90" fill="none" stroke="#1a1a1a" stroke-width="1.35"/>
<path d="M426.40,193.60 L430.80,193.60 L428.60,199.40 Z" fill="#1a1a1a" stroke="#1a1a1a" stroke-width="0.4" stroke-linejoin="round"/>
<path d="M478.80,193.60 L483.20,193.60 L481.00,199.40 Z" fill="#1a1a1a" stroke="#1a1a1a" stroke-width="0.4" stroke-linejoin="round"/>
<path d="M455.40,268.60 L455.40,268.50 Q455.40,263.90 460.00,263.90 L479.00,263.90 Q481.00,263.90 481.00,259.50 Q481.00,263.90 483.00,263.90 L502.60,263.90 Q507.20,263.90 507.20,268.50 L507.20,268.60" fill="none" stroke="#1a1a1a" stroke-width="1.35"/>
<path d="M453.20,267.30 L457.60,267.30 L455.40,273.10 Z" fill="#1a1a1a" stroke="#1a1a1a" stroke-width="0.4" stroke-linejoin="round"/>
<path d="M505.00,267.30 L509.40,267.30 L507.20,273.10 Z" fill="#1a1a1a" stroke="#1a1a1a" stroke-width="0.4" stroke-linejoin="round"/>
<text x="316.00" y="113.00" font-size="12" text-anchor="start" font-weight="normal" fill="#161616" >+</text>
<text x="329.00" y="113.00" font-size="12" text-anchor="start" font-weight="normal" fill="#161616" >S<tspan class="o">1</tspan>7-<tspan class="o">1</tspan> donor</text>
<text x="355.40" y="125.80" font-size="12" text-anchor="middle" font-weight="normal" fill="#161616" >control</text>
<line x1="318.80" y1="131.60" x2="391.60" y2="131.60" stroke="#161616" stroke-width="1.3" />
<text x="474.00" y="113.00" font-size="12" text-anchor="start" font-weight="normal" fill="#161616" >+</text>
<text x="487.50" y="113.00" font-size="12" text-anchor="start" font-weight="normal" fill="#161616" >S<tspan class="o">1</tspan>7-<tspan class="o">1</tspan> donor</text>
<text x="513.90" y="125.70" font-size="12" text-anchor="middle" font-weight="normal" fill="#161616" >displaying Ag<tspan class="o">1</tspan></text>
<line x1="466.00" y1="131.10" x2="561.50" y2="131.10" stroke="#161616" stroke-width="1.3" />
<line x1="373.41" y1="160.24" x2="363.80" y2="172.60" stroke="#1a1a1a" stroke-width="1.4" stroke-dasharray="2.3 1.9"/>
<line x1="373.69" y1="149.46" x2="365.62" y2="144.98" stroke="#505050" stroke-width="1.9" stroke-linecap="round"/>
<line x1="373.69" y1="149.46" x2="365.62" y2="144.98" stroke="#d2d2d2" stroke-width="0.8" stroke-linecap="round"/>
<circle cx="372.73" cy="148.91" r="1.5" fill="#fff" stroke="#888" stroke-width="0.4"/>
<rect x="363.30" y="146.70" width="30.40" height="12.00" rx="9.12" ry="6.00" transform="rotate(-56.0 378.50 152.70)" fill="url(#gYel)" stroke="#d4b34d" stroke-width="0.6"/>
<rect x="374.04" y="147.93" width="10.0" height="4.0" transform="rotate(-56.0 379.04 149.93)" fill="#f6e7b0" stroke="#3a3a3a" stroke-width="0.55"/>
<circle cx="377.14" cy="152.75" r="0.9" fill="#222"/>
<circle cx="373.41" cy="160.24" r="2.0" fill="#111"/>
<line x1="399.61" y1="231.84" x2="390.00" y2="244.20" stroke="#1a1a1a" stroke-width="1.4" stroke-dasharray="2.3 1.9"/>
<line x1="399.89" y1="221.06" x2="391.82" y2="216.58" stroke="#505050" stroke-width="1.9" stroke-linecap="round"/>
<line x1="399.89" y1="221.06" x2="391.82" y2="216.58" stroke="#d2d2d2" stroke-width="0.8" stroke-linecap="round"/>
<circle cx="398.93" cy="220.51" r="1.5" fill="#fff" stroke="#888" stroke-width="0.4"/>
<rect x="389.50" y="218.30" width="30.40" height="12.00" rx="9.12" ry="6.00" transform="rotate(-56.0 404.70 224.30)" fill="url(#gYel)" stroke="#d4b34d" stroke-width="0.6"/>
<rect x="400.24" y="219.53" width="10.0" height="4.0" transform="rotate(-56.0 405.24 221.53)" fill="#f6e7b0" stroke="#3a3a3a" stroke-width="0.55"/>
<circle cx="403.34" cy="224.35" r="0.9" fill="#222"/>
<circle cx="399.61" cy="231.84" r="2.0" fill="#111"/>
<line x1="427.16" y1="306.64" x2="417.55" y2="319.00" stroke="#1a1a1a" stroke-width="1.4" stroke-dasharray="2.3 1.9"/>
<line x1="427.44" y1="295.86" x2="419.37" y2="291.38" stroke="#505050" stroke-width="1.9" stroke-linecap="round"/>
<line x1="427.44" y1="295.86" x2="419.37" y2="291.38" stroke="#d2d2d2" stroke-width="0.8" stroke-linecap="round"/>
<circle cx="426.48" cy="295.31" r="1.5" fill="#fff" stroke="#888" stroke-width="0.4"/>
<rect x="417.05" y="293.10" width="30.40" height="12.00" rx="9.12" ry="6.00" transform="rotate(-56.0 432.25 299.10)" fill="url(#gYel)" stroke="#d4b34d" stroke-width="0.6"/>
<rect x="427.79" y="294.33" width="10.0" height="4.0" transform="rotate(-56.0 432.79 296.33)" fill="#f6e7b0" stroke="#3a3a3a" stroke-width="0.55"/>
<circle cx="430.89" cy="299.15" r="0.9" fill="#222"/>
<circle cx="427.16" cy="306.64" r="2.0" fill="#111"/>
<line x1="480.16" y1="156.95" x2="487.85" y2="169.40" stroke="#1a1a1a" stroke-width="1.4" stroke-dasharray="2.3 1.9"/>
<line x1="487.02" y1="153.18" x2="495.97" y2="157.20" stroke="#505050" stroke-width="1.9" stroke-linecap="round"/>
<line x1="487.02" y1="153.18" x2="495.97" y2="157.20" stroke="#d2d2d2" stroke-width="0.8" stroke-linecap="round"/>
<circle cx="488.08" cy="153.69" r="1.5" fill="#fff" stroke="#888" stroke-width="0.4"/>
<line x1="482.24" y1="142.92" x2="477.79" y2="140.03" stroke="#9aa3ad" stroke-width="0.8"/>
<ellipse cx="477.79" cy="140.03" rx="2.3" ry="1.5" transform="rotate(-147.0 477.79 140.03)" fill="url(#gDrop)" stroke="#86b8e0" stroke-width="0.4"/>
<line x1="490.56" y1="140.14" x2="493.48" y2="136.63" stroke="#9aa3ad" stroke-width="0.8"/>
<ellipse cx="493.48" cy="136.63" rx="2.3" ry="1.5" transform="rotate(-50.3 493.48 136.63)" fill="url(#gDrop)" stroke="#86b8e0" stroke-width="0.4"/>
<line x1="476.68" y1="151.47" x2="473.16" y2="149.19" stroke="#9aa3ad" stroke-width="0.8"/>
<ellipse cx="473.16" cy="149.19" rx="2.3" ry="1.5" transform="rotate(-147.0 473.16 149.19)" fill="url(#gDrop)" stroke="#86b8e0" stroke-width="0.4"/>
<line x1="491.38" y1="146.83" x2="494.90" y2="149.12" stroke="#9aa3ad" stroke-width="0.8"/>
<ellipse cx="494.90" cy="149.12" rx="2.3" ry="1.5" transform="rotate(33.0 494.90 149.12)" fill="url(#gDrop)" stroke="#86b8e0" stroke-width="0.4"/>
<line x1="477.89" y1="161.19" x2="476.63" y2="165.51" stroke="#9aa3ad" stroke-width="0.8"/>
<ellipse cx="476.63" cy="165.51" rx="2.3" ry="1.5" transform="rotate(106.3 476.63 165.51)" fill="url(#gDrop)" stroke="#86b8e0" stroke-width="0.4"/>
<rect x="470.95" y="145.30" width="24.80" height="9.80" rx="7.44" ry="4.90" transform="rotate(-57.0 483.35 150.20)" fill="url(#gYel)" stroke="#d4b34d" stroke-width="0.6"/>
<rect x="478.80" y="146.23" width="10.0" height="4.0" transform="rotate(-57.0 483.80 148.23)" fill="#f6e7b0" stroke="#3a3a3a" stroke-width="0.55"/>
<circle cx="481.95" cy="151.08" r="0.9" fill="#222"/>
<circle cx="480.16" cy="156.95" r="2.0" fill="#111"/>
<line x1="507.31" y1="228.75" x2="515.00" y2="241.20" stroke="#1a1a1a" stroke-width="1.4" stroke-dasharray="2.3 1.9"/>
<line x1="514.17" y1="224.98" x2="523.12" y2="229.00" stroke="#505050" stroke-width="1.9" stroke-linecap="round"/>
<line x1="514.17" y1="224.98" x2="523.12" y2="229.00" stroke="#d2d2d2" stroke-width="0.8" stroke-linecap="round"/>
<circle cx="515.23" cy="225.49" r="1.5" fill="#fff" stroke="#888" stroke-width="0.4"/>
<line x1="509.39" y1="214.72" x2="504.94" y2="211.83" stroke="#9aa3ad" stroke-width="0.8"/>
<ellipse cx="504.94" cy="211.83" rx="2.3" ry="1.5" transform="rotate(-147.0 504.94 211.83)" fill="url(#gDrop)" stroke="#86b8e0" stroke-width="0.4"/>
<line x1="517.71" y1="211.94" x2="520.63" y2="208.43" stroke="#9aa3ad" stroke-width="0.8"/>
<ellipse cx="520.63" cy="208.43" rx="2.3" ry="1.5" transform="rotate(-50.3 520.63 208.43)" fill="url(#gDrop)" stroke="#86b8e0" stroke-width="0.4"/>
<line x1="503.83" y1="223.27" x2="500.31" y2="220.99" stroke="#9aa3ad" stroke-width="0.8"/>
<ellipse cx="500.31" cy="220.99" rx="2.3" ry="1.5" transform="rotate(-147.0 500.31 220.99)" fill="url(#gDrop)" stroke="#86b8e0" stroke-width="0.4"/>
<line x1="518.53" y1="218.63" x2="522.05" y2="220.92" stroke="#9aa3ad" stroke-width="0.8"/>
<ellipse cx="522.05" cy="220.92" rx="2.3" ry="1.5" transform="rotate(33.0 522.05 220.92)" fill="url(#gDrop)" stroke="#86b8e0" stroke-width="0.4"/>
<line x1="505.04" y1="232.99" x2="503.78" y2="237.31" stroke="#9aa3ad" stroke-width="0.8"/>
<ellipse cx="503.78" cy="237.31" rx="2.3" ry="1.5" transform="rotate(106.3 503.78 237.31)" fill="url(#gDrop)" stroke="#86b8e0" stroke-width="0.4"/>
<rect x="498.10" y="217.10" width="24.80" height="9.80" rx="7.44" ry="4.90" transform="rotate(-57.0 510.50 222.00)" fill="url(#gYel)" stroke="#d4b34d" stroke-width="0.6"/>
<rect x="505.95" y="218.03" width="10.0" height="4.0" transform="rotate(-57.0 510.95 220.03)" fill="#f6e7b0" stroke="#3a3a3a" stroke-width="0.55"/>
<circle cx="509.10" cy="222.88" r="0.9" fill="#222"/>
<circle cx="507.31" cy="228.75" r="2.0" fill="#111"/>
<line x1="532.51" y1="303.55" x2="540.20" y2="316.00" stroke="#1a1a1a" stroke-width="1.4" stroke-dasharray="2.3 1.9"/>
<line x1="539.37" y1="299.78" x2="548.32" y2="303.80" stroke="#505050" stroke-width="1.9" stroke-linecap="round"/>
<line x1="539.37" y1="299.78" x2="548.32" y2="303.80" stroke="#d2d2d2" stroke-width="0.8" stroke-linecap="round"/>
<circle cx="540.43" cy="300.29" r="1.5" fill="#fff" stroke="#888" stroke-width="0.4"/>
<line x1="534.59" y1="289.52" x2="530.14" y2="286.63" stroke="#9aa3ad" stroke-width="0.8"/>
<ellipse cx="530.14" cy="286.63" rx="2.3" ry="1.5" transform="rotate(-147.0 530.14 286.63)" fill="url(#gDrop)" stroke="#86b8e0" stroke-width="0.4"/>
<line x1="542.91" y1="286.74" x2="545.83" y2="283.23" stroke="#9aa3ad" stroke-width="0.8"/>
<ellipse cx="545.83" cy="283.23" rx="2.3" ry="1.5" transform="rotate(-50.3 545.83 283.23)" fill="url(#gDrop)" stroke="#86b8e0" stroke-width="0.4"/>
<line x1="529.03" y1="298.07" x2="525.51" y2="295.79" stroke="#9aa3ad" stroke-width="0.8"/>
<ellipse cx="525.51" cy="295.79" rx="2.3" ry="1.5" transform="rotate(-147.0 525.51 295.79)" fill="url(#gDrop)" stroke="#86b8e0" stroke-width="0.4"/>
<line x1="543.73" y1="293.43" x2="547.25" y2="295.72" stroke="#9aa3ad" stroke-width="0.8"/>
<ellipse cx="547.25" cy="295.72" rx="2.3" ry="1.5" transform="rotate(33.0 547.25 295.72)" fill="url(#gDrop)" stroke="#86b8e0" stroke-width="0.4"/>
<line x1="530.24" y1="307.79" x2="528.98" y2="312.11" stroke="#9aa3ad" stroke-width="0.8"/>
<ellipse cx="528.98" cy="312.11" rx="2.3" ry="1.5" transform="rotate(106.3 528.98 312.11)" fill="url(#gDrop)" stroke="#86b8e0" stroke-width="0.4"/>
<rect x="523.30" y="291.90" width="24.80" height="9.80" rx="7.44" ry="4.90" transform="rotate(-57.0 535.70 296.80)" fill="url(#gYel)" stroke="#d4b34d" stroke-width="0.6"/>
<rect x="531.15" y="292.83" width="10.0" height="4.0" transform="rotate(-57.0 536.15 294.83)" fill="#f6e7b0" stroke="#3a3a3a" stroke-width="0.55"/>
<circle cx="534.30" cy="297.68" r="0.9" fill="#222"/>
<circle cx="532.51" cy="303.55" r="2.0" fill="#111"/>
<text x="359.30" y="179.20" font-size="12" text-anchor="end" fill="#161616">Gen<tspan font-size="8.5" dy="-4.6">R</tspan></text>
<text x="488.00" y="179.20" font-size="12" text-anchor="start" fill="#161616">Gen<tspan font-size="8.5" dy="-4.6">R</tspan></text>
<text x="384.60" y="250.80" font-size="12" text-anchor="end" fill="#161616">Amp<tspan font-size="8.5" dy="-4.6">R</tspan></text>
<text x="514.80" y="250.80" font-size="12" text-anchor="start" fill="#161616">Amp<tspan font-size="8.5" dy="-4.6">R</tspan></text>
<text x="411.20" y="325.20" font-size="12" text-anchor="end" fill="#161616">Tmp<tspan font-size="8.5" dy="-4.6">R</tspan></text>
<text x="541.80" y="325.20" font-size="12" text-anchor="start" fill="#161616">Tmp<tspan font-size="8.5" dy="-4.6">R</tspan></text>
<clipPath id="cb0"><rect x="590.40" y="36.40" width="70.5" height="69.8"/></clipPath>
<rect x="590.40" y="36.40" width="70.5" height="69.8" fill="#f5f4f0"/>
<g clip-path="url(#cb0)">
<rect x="616.18" y="37.66" width="16.8" height="7.6" rx="5.2" ry="3.8" transform="rotate(-22 624.58 41.46)" fill="url(#gGrey)" stroke="#a49dab" stroke-width="0.6"/>
<rect x="633.90" y="38.93" width="16.8" height="7.6" rx="5.2" ry="3.8" transform="rotate(-22 642.30 42.73)" fill="url(#gGrey)" stroke="#a49dab" stroke-width="0.6"/>
<rect x="591.49" y="47.79" width="16.8" height="7.6" rx="5.2" ry="3.8" transform="rotate(61 599.89 51.59)" fill="url(#gGrey)" stroke="#a49dab" stroke-width="0.6"/>
<rect x="605.42" y="48.68" width="16.8" height="7.6" rx="5.2" ry="3.8" transform="rotate(21 613.82 52.48)" fill="url(#gGrey)" stroke="#a49dab" stroke-width="0.6"/>
<rect x="626.30" y="54.12" width="16.8" height="7.6" rx="5.2" ry="3.8" transform="rotate(-13 634.70 57.92)" fill="url(#gGrey)" stroke="#a49dab" stroke-width="0.6"/>
<rect x="644.66" y="55.01" width="16.8" height="7.6" rx="5.2" ry="3.8" transform="rotate(23 653.06 58.81)" fill="url(#gGrey)" stroke="#a49dab" stroke-width="0.6"/>
<rect x="588.33" y="63.61" width="16.8" height="7.6" rx="5.2" ry="3.8" transform="rotate(-31 596.73 67.41)" fill="url(#gGrey)" stroke="#a49dab" stroke-width="0.6"/>
<rect x="603.52" y="63.99" width="16.8" height="7.6" rx="5.2" ry="3.8" transform="rotate(-30 611.92 67.79)" fill="url(#gGrey)" stroke="#a49dab" stroke-width="0.6"/>
<rect x="634.15" y="69.94" width="16.8" height="7.6" rx="5.2" ry="3.8" transform="rotate(-59 642.55 73.74)" fill="url(#gGrey)" stroke="#a49dab" stroke-width="0.6"/>
<rect x="649.09" y="66.78" width="16.8" height="7.6" rx="5.2" ry="3.8" transform="rotate(15 657.49 70.58)" fill="url(#gGrey)" stroke="#a49dab" stroke-width="0.6"/>
<rect x="598.46" y="81.08" width="16.8" height="7.6" rx="5.2" ry="3.8" transform="rotate(42 606.86 84.88)" fill="url(#gGrey)" stroke="#a49dab" stroke-width="0.6"/>
<rect x="643.01" y="78.55" width="16.8" height="7.6" rx="5.2" ry="3.8" transform="rotate(-58 651.41 82.35)" fill="url(#gGrey)" stroke="#a49dab" stroke-width="0.6"/>
<rect x="588.33" y="85.13" width="16.8" height="7.6" rx="5.2" ry="3.8" transform="rotate(12 596.73 88.93)" fill="url(#gGrey)" stroke="#a49dab" stroke-width="0.6"/>
<rect x="628.84" y="87.92" width="16.8" height="7.6" rx="5.2" ry="3.8" transform="rotate(25 637.24 91.72)" fill="url(#gGrey)" stroke="#a49dab" stroke-width="0.6"/>
<rect x="618.33" y="95.01" width="16.8" height="7.6" rx="5.2" ry="3.8" transform="rotate(10 626.73 98.81)" fill="url(#gGrey)" stroke="#a49dab" stroke-width="0.6"/>
<rect x="600.10" y="96.52" width="16.8" height="7.6" rx="5.2" ry="3.8" transform="rotate(49 608.50 100.32)" fill="url(#gGrey)" stroke="#a49dab" stroke-width="0.6"/>
<rect x="646.56" y="93.74" width="16.8" height="7.6" rx="5.2" ry="3.8" transform="rotate(-47 654.96 97.54)" fill="url(#gGrey)" stroke="#a49dab" stroke-width="0.6"/>
<line x1="616.45" y1="77.02" x2="617.87" y2="78.13" stroke="#8c95b0" stroke-width="0.6"/>
<circle cx="616.45" cy="77.02" r="0.8" fill="#a9cde9"/>
<line x1="621.99" y1="69.93" x2="623.41" y2="71.04" stroke="#8c95b0" stroke-width="0.6"/>
<circle cx="621.99" cy="69.93" r="0.8" fill="#a9cde9"/>
<line x1="625.89" y1="83.13" x2="624.48" y2="82.02" stroke="#8c95b0" stroke-width="0.6"/>
<circle cx="625.89" cy="83.13" r="0.8" fill="#a9cde9"/>
<line x1="632.05" y1="75.25" x2="630.63" y2="74.14" stroke="#8c95b0" stroke-width="0.6"/>
<circle cx="632.05" cy="75.25" r="0.8" fill="#a9cde9"/>
<circle cx="617.05" cy="85.35" r="0.8" fill="#a9cde9"/>
<circle cx="630.84" cy="67.70" r="0.8" fill="#a9cde9"/>
<rect x="614.24" y="72.53" width="19.40" height="8.00" rx="5.60" ry="4.00" transform="rotate(-52 623.94 76.53)" fill="url(#gBlue)" stroke="#9b94b4" stroke-width="0.6"/>
</g>
<rect x="590.40" y="36.40" width="70.5" height="69.8" fill="none" stroke="#2a2a2a" stroke-width="1.3"/>
<clipPath id="cb1"><rect x="590.40" y="109.40" width="70.5" height="69.8"/></clipPath>
<rect x="590.40" y="109.40" width="70.5" height="69.8" fill="#f5f4f0"/>
<g clip-path="url(#cb1)">
<rect x="616.18" y="110.66" width="16.8" height="7.6" rx="5.2" ry="3.8" transform="rotate(-22 624.58 114.46)" fill="url(#gGrey)" stroke="#a49dab" stroke-width="0.6"/>
<rect x="633.90" y="111.93" width="16.8" height="7.6" rx="5.2" ry="3.8" transform="rotate(-22 642.30 115.73)" fill="url(#gGrey)" stroke="#a49dab" stroke-width="0.6"/>
<rect x="591.49" y="120.79" width="16.8" height="7.6" rx="5.2" ry="3.8" transform="rotate(61 599.89 124.59)" fill="url(#gGrey)" stroke="#a49dab" stroke-width="0.6"/>
<rect x="605.42" y="121.68" width="16.8" height="7.6" rx="5.2" ry="3.8" transform="rotate(21 613.82 125.48)" fill="url(#gGrey)" stroke="#a49dab" stroke-width="0.6"/>
<rect x="626.30" y="127.12" width="16.8" height="7.6" rx="5.2" ry="3.8" transform="rotate(-13 634.70 130.92)" fill="url(#gGrey)" stroke="#a49dab" stroke-width="0.6"/>
<rect x="644.66" y="128.01" width="16.8" height="7.6" rx="5.2" ry="3.8" transform="rotate(23 653.06 131.81)" fill="url(#gGrey)" stroke="#a49dab" stroke-width="0.6"/>
<rect x="588.33" y="136.61" width="16.8" height="7.6" rx="5.2" ry="3.8" transform="rotate(-31 596.73 140.41)" fill="url(#gGrey)" stroke="#a49dab" stroke-width="0.6"/>
<rect x="603.52" y="136.99" width="16.8" height="7.6" rx="5.2" ry="3.8" transform="rotate(-30 611.92 140.79)" fill="url(#gGrey)" stroke="#a49dab" stroke-width="0.6"/>
<rect x="649.09" y="139.78" width="16.8" height="7.6" rx="5.2" ry="3.8" transform="rotate(15 657.49 143.58)" fill="url(#gGrey)" stroke="#a49dab" stroke-width="0.6"/>
<rect x="598.46" y="154.08" width="16.8" height="7.6" rx="5.2" ry="3.8" transform="rotate(42 606.86 157.88)" fill="url(#gGrey)" stroke="#a49dab" stroke-width="0.6"/>
<rect x="643.01" y="151.55" width="16.8" height="7.6" rx="5.2" ry="3.8" transform="rotate(-58 651.41 155.35)" fill="url(#gGrey)" stroke="#a49dab" stroke-width="0.6"/>
<rect x="588.33" y="158.13" width="16.8" height="7.6" rx="5.2" ry="3.8" transform="rotate(12 596.73 161.93)" fill="url(#gGrey)" stroke="#a49dab" stroke-width="0.6"/>
<rect x="618.33" y="168.01" width="16.8" height="7.6" rx="5.2" ry="3.8" transform="rotate(10 626.73 171.81)" fill="url(#gGrey)" stroke="#a49dab" stroke-width="0.6"/>
<rect x="600.10" y="169.52" width="16.8" height="7.6" rx="5.2" ry="3.8" transform="rotate(49 608.50 173.32)" fill="url(#gGrey)" stroke="#a49dab" stroke-width="0.6"/>
<rect x="646.56" y="166.74" width="16.8" height="7.6" rx="5.2" ry="3.8" transform="rotate(-47 654.96 170.54)" fill="url(#gGrey)" stroke="#a49dab" stroke-width="0.6"/>
<line x1="616.45" y1="150.53" x2="617.87" y2="151.63" stroke="#8c95b0" stroke-width="0.6"/>
<circle cx="616.45" cy="150.53" r="0.8" fill="#a9cde9"/>
<line x1="621.99" y1="143.43" x2="623.41" y2="144.54" stroke="#8c95b0" stroke-width="0.6"/>
<circle cx="621.99" cy="143.43" r="0.8" fill="#a9cde9"/>
<line x1="625.89" y1="156.63" x2="624.48" y2="155.52" stroke="#8c95b0" stroke-width="0.6"/>
<circle cx="625.89" cy="156.63" r="0.8" fill="#a9cde9"/>
<line x1="632.05" y1="148.75" x2="630.63" y2="147.64" stroke="#8c95b0" stroke-width="0.6"/>
<circle cx="632.05" cy="148.75" r="0.8" fill="#a9cde9"/>
<circle cx="617.05" cy="158.86" r="0.8" fill="#a9cde9"/>
<circle cx="630.84" cy="141.21" r="0.8" fill="#a9cde9"/>
<rect x="614.24" y="146.03" width="19.40" height="8.00" rx="5.60" ry="4.00" transform="rotate(-52 623.94 150.03)" fill="url(#gBlue)" stroke="#9b94b4" stroke-width="0.6"/>
<line x1="629.84" y1="158.14" x2="631.36" y2="159.09" stroke="#8c95b0" stroke-width="0.6"/>
<circle cx="629.84" cy="158.14" r="0.8" fill="#a9cde9"/>
<line x1="634.61" y1="150.51" x2="636.13" y2="151.46" stroke="#8c95b0" stroke-width="0.6"/>
<circle cx="634.61" cy="150.51" r="0.8" fill="#a9cde9"/>
<line x1="639.86" y1="163.23" x2="638.34" y2="162.27" stroke="#8c95b0" stroke-width="0.6"/>
<circle cx="639.86" cy="163.23" r="0.8" fill="#a9cde9"/>
<line x1="645.16" y1="154.75" x2="643.64" y2="153.79" stroke="#8c95b0" stroke-width="0.6"/>
<circle cx="645.16" cy="154.75" r="0.8" fill="#a9cde9"/>
<circle cx="631.30" cy="166.37" r="0.8" fill="#a9cde9"/>
<circle cx="643.17" cy="147.37" r="0.8" fill="#a9cde9"/>
<rect x="627.54" y="152.87" width="19.40" height="8.00" rx="5.60" ry="4.00" transform="rotate(-58 637.24 156.87)" fill="url(#gBlue)" stroke="#9b94b4" stroke-width="0.6"/>
</g>
<rect x="590.40" y="109.40" width="70.5" height="69.8" fill="none" stroke="#2a2a2a" stroke-width="1.3"/>
<clipPath id="cb2"><rect x="590.40" y="182.20" width="70.5" height="69.8"/></clipPath>
<rect x="590.40" y="182.20" width="70.5" height="69.8" fill="#f5f4f0"/>
<g clip-path="url(#cb2)">
<rect x="616.18" y="183.46" width="16.8" height="7.6" rx="5.2" ry="3.8" transform="rotate(-22 624.58 187.26)" fill="url(#gGrey)" stroke="#a49dab" stroke-width="0.6"/>
<rect x="633.90" y="184.73" width="16.8" height="7.6" rx="5.2" ry="3.8" transform="rotate(-22 642.30 188.53)" fill="url(#gGrey)" stroke="#a49dab" stroke-width="0.6"/>
<rect x="591.49" y="193.59" width="16.8" height="7.6" rx="5.2" ry="3.8" transform="rotate(61 599.89 197.39)" fill="url(#gGrey)" stroke="#a49dab" stroke-width="0.6"/>
<rect x="605.42" y="194.48" width="16.8" height="7.6" rx="5.2" ry="3.8" transform="rotate(21 613.82 198.28)" fill="url(#gGrey)" stroke="#a49dab" stroke-width="0.6"/>
<rect x="644.66" y="200.81" width="16.8" height="7.6" rx="5.2" ry="3.8" transform="rotate(23 653.06 204.61)" fill="url(#gGrey)" stroke="#a49dab" stroke-width="0.6"/>
<rect x="588.33" y="209.41" width="16.8" height="7.6" rx="5.2" ry="3.8" transform="rotate(-31 596.73 213.21)" fill="url(#gGrey)" stroke="#a49dab" stroke-width="0.6"/>
<rect x="649.09" y="212.58" width="16.8" height="7.6" rx="5.2" ry="3.8" transform="rotate(15 657.49 216.38)" fill="url(#gGrey)" stroke="#a49dab" stroke-width="0.6"/>
<rect x="598.46" y="226.88" width="16.8" height="7.6" rx="5.2" ry="3.8" transform="rotate(42 606.86 230.68)" fill="url(#gGrey)" stroke="#a49dab" stroke-width="0.6"/>
<rect x="643.01" y="224.35" width="16.8" height="7.6" rx="5.2" ry="3.8" transform="rotate(-58 651.41 228.15)" fill="url(#gGrey)" stroke="#a49dab" stroke-width="0.6"/>
<rect x="588.33" y="230.93" width="16.8" height="7.6" rx="5.2" ry="3.8" transform="rotate(12 596.73 234.73)" fill="url(#gGrey)" stroke="#a49dab" stroke-width="0.6"/>
<rect x="618.33" y="240.81" width="16.8" height="7.6" rx="5.2" ry="3.8" transform="rotate(10 626.73 244.61)" fill="url(#gGrey)" stroke="#a49dab" stroke-width="0.6"/>
<rect x="600.10" y="242.32" width="16.8" height="7.6" rx="5.2" ry="3.8" transform="rotate(49 608.50 246.12)" fill="url(#gGrey)" stroke="#a49dab" stroke-width="0.6"/>
<rect x="646.56" y="239.54" width="16.8" height="7.6" rx="5.2" ry="3.8" transform="rotate(-47 654.96 243.34)" fill="url(#gGrey)" stroke="#a49dab" stroke-width="0.6"/>
<line x1="604.61" y1="211.49" x2="605.64" y2="212.97" stroke="#8c95b0" stroke-width="0.6"/>
<circle cx="604.61" cy="211.49" r="0.8" fill="#a9cde9"/>
<line x1="611.98" y1="206.33" x2="613.02" y2="207.81" stroke="#8c95b0" stroke-width="0.6"/>
<circle cx="611.98" cy="206.33" r="0.8" fill="#a9cde9"/>
<line x1="611.85" y1="220.09" x2="610.82" y2="218.62" stroke="#8c95b0" stroke-width="0.6"/>
<circle cx="611.85" cy="220.09" r="0.8" fill="#a9cde9"/>
<line x1="620.05" y1="214.36" x2="619.01" y2="212.88" stroke="#8c95b0" stroke-width="0.6"/>
<circle cx="620.05" cy="214.36" r="0.8" fill="#a9cde9"/>
<circle cx="602.74" cy="219.64" r="0.8" fill="#a9cde9"/>
<circle cx="621.09" cy="206.79" r="0.8" fill="#a9cde9"/>
<rect x="602.22" y="209.21" width="19.40" height="8.00" rx="5.60" ry="4.00" transform="rotate(-35 611.92 213.21)" fill="url(#gBlue)" stroke="#9b94b4" stroke-width="0.6"/>
<line x1="637.06" y1="197.68" x2="635.58" y2="198.71" stroke="#8c95b0" stroke-width="0.6"/>
<circle cx="637.06" cy="197.68" r="0.8" fill="#a9cde9"/>
<line x1="642.22" y1="205.05" x2="640.74" y2="206.08" stroke="#8c95b0" stroke-width="0.6"/>
<circle cx="642.22" cy="205.05" r="0.8" fill="#a9cde9"/>
<line x1="628.46" y1="204.92" x2="629.93" y2="203.89" stroke="#8c95b0" stroke-width="0.6"/>
<circle cx="628.46" cy="204.92" r="0.8" fill="#a9cde9"/>
<line x1="634.19" y1="213.11" x2="635.67" y2="212.08" stroke="#8c95b0" stroke-width="0.6"/>
<circle cx="634.19" cy="213.11" r="0.8" fill="#a9cde9"/>
<circle cx="628.91" cy="195.81" r="0.8" fill="#a9cde9"/>
<circle cx="641.76" cy="214.16" r="0.8" fill="#a9cde9"/>
<rect x="625.64" y="200.98" width="19.40" height="8.00" rx="5.60" ry="4.00" transform="rotate(55 635.34 204.98)" fill="url(#gBlue)" stroke="#9b94b4" stroke-width="0.6"/>
<line x1="616.29" y1="223.98" x2="617.82" y2="224.93" stroke="#8c95b0" stroke-width="0.6"/>
<circle cx="616.29" cy="223.98" r="0.8" fill="#a9cde9"/>
<line x1="621.06" y1="216.35" x2="622.59" y2="217.30" stroke="#8c95b0" stroke-width="0.6"/>
<circle cx="621.06" cy="216.35" r="0.8" fill="#a9cde9"/>
<line x1="626.32" y1="229.07" x2="624.79" y2="228.11" stroke="#8c95b0" stroke-width="0.6"/>
<circle cx="626.32" cy="229.07" r="0.8" fill="#a9cde9"/>
<line x1="631.62" y1="220.59" x2="630.09" y2="219.63" stroke="#8c95b0" stroke-width="0.6"/>
<circle cx="631.62" cy="220.59" r="0.8" fill="#a9cde9"/>
<circle cx="617.76" cy="232.20" r="0.8" fill="#a9cde9"/>
<circle cx="629.63" cy="213.21" r="0.8" fill="#a9cde9"/>
<rect x="613.99" y="218.71" width="19.40" height="8.00" rx="5.60" ry="4.00" transform="rotate(-58 623.69 222.71)" fill="url(#gBlue)" stroke="#9b94b4" stroke-width="0.6"/>
<line x1="629.94" y1="230.82" x2="631.53" y2="231.67" stroke="#8c95b0" stroke-width="0.6"/>
<circle cx="629.94" cy="230.82" r="0.8" fill="#a9cde9"/>
<line x1="634.17" y1="222.87" x2="635.76" y2="223.72" stroke="#8c95b0" stroke-width="0.6"/>
<circle cx="634.17" cy="222.87" r="0.8" fill="#a9cde9"/>
<line x1="640.30" y1="235.20" x2="638.71" y2="234.35" stroke="#8c95b0" stroke-width="0.6"/>
<circle cx="640.30" cy="235.20" r="0.8" fill="#a9cde9"/>
<line x1="645.00" y1="226.37" x2="643.41" y2="225.52" stroke="#8c95b0" stroke-width="0.6"/>
<circle cx="645.00" cy="226.37" r="0.8" fill="#a9cde9"/>
<circle cx="631.98" cy="238.92" r="0.8" fill="#a9cde9"/>
<circle cx="642.49" cy="219.15" r="0.8" fill="#a9cde9"/>
<rect x="627.54" y="225.04" width="19.40" height="8.00" rx="5.60" ry="4.00" transform="rotate(-62 637.24 229.04)" fill="url(#gBlue)" stroke="#9b94b4" stroke-width="0.6"/>
</g>
<rect x="590.40" y="182.20" width="70.5" height="69.8" fill="none" stroke="#2a2a2a" stroke-width="1.3"/>
<clipPath id="cb3"><rect x="590.40" y="254.70" width="70.5" height="69.8"/></clipPath>
<rect x="590.40" y="254.70" width="70.5" height="69.8" fill="#f5f4f0"/>
<g clip-path="url(#cb3)">
<rect x="644.66" y="274.95" width="16.8" height="7.6" rx="5.2" ry="3.8" transform="rotate(23 653.06 278.75)" fill="url(#gGrey)" stroke="#a49dab" stroke-width="0.6"/>
<rect x="588.33" y="283.18" width="16.8" height="7.6" rx="5.2" ry="3.8" transform="rotate(-31 596.73 286.98)" fill="url(#gGrey)" stroke="#a49dab" stroke-width="0.6"/>
<rect x="649.09" y="285.71" width="16.8" height="7.6" rx="5.2" ry="3.8" transform="rotate(15 657.49 289.51)" fill="url(#gGrey)" stroke="#a49dab" stroke-width="0.6"/>
<rect x="600.10" y="315.46" width="16.8" height="7.6" rx="5.2" ry="3.8" transform="rotate(49 608.50 319.26)" fill="url(#gGrey)" stroke="#a49dab" stroke-width="0.6"/>
<rect x="646.56" y="312.29" width="16.8" height="7.6" rx="5.2" ry="3.8" transform="rotate(-47 654.96 316.09)" fill="url(#gGrey)" stroke="#a49dab" stroke-width="0.6"/>
<line x1="598.58" y1="256.79" x2="597.11" y2="257.83" stroke="#8c95b0" stroke-width="0.6"/>
<circle cx="598.58" cy="256.79" r="0.8" fill="#a9cde9"/>
<line x1="603.74" y1="264.17" x2="602.27" y2="265.20" stroke="#8c95b0" stroke-width="0.6"/>
<circle cx="603.74" cy="264.17" r="0.8" fill="#a9cde9"/>
<line x1="589.72" y1="264.22" x2="591.19" y2="263.19" stroke="#8c95b0" stroke-width="0.6"/>
<circle cx="589.72" cy="264.22" r="0.8" fill="#a9cde9"/>
<line x1="595.45" y1="272.41" x2="596.93" y2="271.38" stroke="#8c95b0" stroke-width="0.6"/>
<circle cx="595.45" cy="272.41" r="0.8" fill="#a9cde9"/>
<circle cx="590.08" cy="254.70" r="0.8" fill="#a9cde9"/>
<circle cx="603.38" cy="273.69" r="0.8" fill="#a9cde9"/>
<rect x="586.64" y="260.03" width="20.18" height="8.32" rx="5.82" ry="4.16" transform="rotate(55 596.73 264.19)" fill="url(#gBlue)" stroke="#9b94b4" stroke-width="0.6"/>
<line x1="609.77" y1="264.24" x2="610.67" y2="265.80" stroke="#8c95b0" stroke-width="0.6"/>
<circle cx="609.77" cy="264.24" r="0.8" fill="#a9cde9"/>
<line x1="617.57" y1="259.74" x2="618.47" y2="261.30" stroke="#8c95b0" stroke-width="0.6"/>
<circle cx="617.57" cy="259.74" r="0.8" fill="#a9cde9"/>
<line x1="616.40" y1="273.71" x2="615.50" y2="272.15" stroke="#8c95b0" stroke-width="0.6"/>
<circle cx="616.40" cy="273.71" r="0.8" fill="#a9cde9"/>
<line x1="625.06" y1="268.71" x2="624.16" y2="267.15" stroke="#8c95b0" stroke-width="0.6"/>
<circle cx="625.06" cy="268.71" r="0.8" fill="#a9cde9"/>
<circle cx="606.95" cy="272.52" r="0.8" fill="#a9cde9"/>
<circle cx="627.02" cy="260.93" r="0.8" fill="#a9cde9"/>
<rect x="606.89" y="262.57" width="20.18" height="8.32" rx="5.82" ry="4.16" transform="rotate(-30 616.98 266.73)" fill="url(#gBlue)" stroke="#9b94b4" stroke-width="0.6"/>
<line x1="642.12" y1="256.70" x2="641.66" y2="258.44" stroke="#8c95b0" stroke-width="0.6"/>
<circle cx="642.12" cy="256.70" r="0.8" fill="#a9cde9"/>
<line x1="650.82" y1="259.03" x2="650.35" y2="260.77" stroke="#8c95b0" stroke-width="0.6"/>
<circle cx="650.82" cy="259.03" r="0.8" fill="#a9cde9"/>
<line x1="640.11" y1="268.09" x2="640.57" y2="266.35" stroke="#8c95b0" stroke-width="0.6"/>
<circle cx="640.11" cy="268.09" r="0.8" fill="#a9cde9"/>
<line x1="649.77" y1="270.68" x2="650.23" y2="268.94" stroke="#8c95b0" stroke-width="0.6"/>
<circle cx="649.77" cy="270.68" r="0.8" fill="#a9cde9"/>
<circle cx="634.27" cy="260.56" r="0.8" fill="#a9cde9"/>
<circle cx="656.66" cy="266.56" r="0.8" fill="#a9cde9"/>
<rect x="635.38" y="259.40" width="20.18" height="8.32" rx="5.82" ry="4.16" transform="rotate(15 645.46 263.56)" fill="url(#gBlue)" stroke="#9b94b4" stroke-width="0.6"/>
<line x1="637.19" y1="271.35" x2="635.71" y2="272.38" stroke="#8c95b0" stroke-width="0.6"/>
<circle cx="637.19" cy="271.35" r="0.8" fill="#a9cde9"/>
<line x1="642.35" y1="278.72" x2="640.87" y2="279.76" stroke="#8c95b0" stroke-width="0.6"/>
<circle cx="642.35" cy="278.72" r="0.8" fill="#a9cde9"/>
<line x1="628.32" y1="278.78" x2="629.80" y2="277.75" stroke="#8c95b0" stroke-width="0.6"/>
<circle cx="628.32" cy="278.78" r="0.8" fill="#a9cde9"/>
<line x1="634.06" y1="286.97" x2="635.53" y2="285.94" stroke="#8c95b0" stroke-width="0.6"/>
<circle cx="634.06" cy="286.97" r="0.8" fill="#a9cde9"/>
<circle cx="628.69" cy="269.26" r="0.8" fill="#a9cde9"/>
<circle cx="641.98" cy="288.24" r="0.8" fill="#a9cde9"/>
<rect x="625.25" y="274.59" width="20.18" height="8.32" rx="5.82" ry="4.16" transform="rotate(55 635.34 278.75)" fill="url(#gBlue)" stroke="#9b94b4" stroke-width="0.6"/>
<line x1="604.71" y1="283.86" x2="605.61" y2="285.42" stroke="#8c95b0" stroke-width="0.6"/>
<circle cx="604.71" cy="283.86" r="0.8" fill="#a9cde9"/>
<line x1="612.50" y1="279.36" x2="613.40" y2="280.92" stroke="#8c95b0" stroke-width="0.6"/>
<circle cx="612.50" cy="279.36" r="0.8" fill="#a9cde9"/>
<line x1="611.33" y1="293.33" x2="610.43" y2="291.78" stroke="#8c95b0" stroke-width="0.6"/>
<circle cx="611.33" cy="293.33" r="0.8" fill="#a9cde9"/>
<line x1="620.00" y1="288.33" x2="619.10" y2="286.78" stroke="#8c95b0" stroke-width="0.6"/>
<circle cx="620.00" cy="288.33" r="0.8" fill="#a9cde9"/>
<circle cx="601.88" cy="292.14" r="0.8" fill="#a9cde9"/>
<circle cx="621.95" cy="280.55" r="0.8" fill="#a9cde9"/>
<rect x="601.83" y="282.19" width="20.18" height="8.32" rx="5.82" ry="4.16" transform="rotate(-30 611.92 286.35)" fill="url(#gBlue)" stroke="#9b94b4" stroke-width="0.6"/>
<line x1="616.20" y1="297.29" x2="617.76" y2="298.19" stroke="#8c95b0" stroke-width="0.6"/>
<circle cx="616.20" cy="297.29" r="0.8" fill="#a9cde9"/>
<line x1="620.70" y1="289.50" x2="622.26" y2="290.40" stroke="#8c95b0" stroke-width="0.6"/>
<circle cx="620.70" cy="289.50" r="0.8" fill="#a9cde9"/>
<line x1="626.68" y1="302.18" x2="625.12" y2="301.28" stroke="#8c95b0" stroke-width="0.6"/>
<circle cx="626.68" cy="302.18" r="0.8" fill="#a9cde9"/>
<line x1="631.68" y1="293.52" x2="630.12" y2="292.62" stroke="#8c95b0" stroke-width="0.6"/>
<circle cx="631.68" cy="293.52" r="0.8" fill="#a9cde9"/>
<circle cx="617.90" cy="305.87" r="0.8" fill="#a9cde9"/>
<circle cx="629.49" cy="285.80" r="0.8" fill="#a9cde9"/>
<rect x="613.60" y="291.68" width="20.18" height="8.32" rx="5.82" ry="4.16" transform="rotate(-60 623.69 295.84)" fill="url(#gBlue)" stroke="#9b94b4" stroke-width="0.6"/>
<line x1="629.90" y1="304.27" x2="631.53" y2="305.03" stroke="#8c95b0" stroke-width="0.6"/>
<circle cx="629.90" cy="304.27" r="0.8" fill="#a9cde9"/>
<line x1="633.71" y1="296.11" x2="635.34" y2="296.87" stroke="#8c95b0" stroke-width="0.6"/>
<circle cx="633.71" cy="296.11" r="0.8" fill="#a9cde9"/>
<line x1="640.77" y1="308.23" x2="639.13" y2="307.47" stroke="#8c95b0" stroke-width="0.6"/>
<circle cx="640.77" cy="308.23" r="0.8" fill="#a9cde9"/>
<line x1="644.99" y1="299.16" x2="643.36" y2="298.40" stroke="#8c95b0" stroke-width="0.6"/>
<circle cx="644.99" cy="299.16" r="0.8" fill="#a9cde9"/>
<circle cx="632.34" cy="312.67" r="0.8" fill="#a9cde9"/>
<circle cx="642.13" cy="291.67" r="0.8" fill="#a9cde9"/>
<rect x="627.15" y="298.01" width="20.18" height="8.32" rx="5.82" ry="4.16" transform="rotate(-65 637.24 302.17)" fill="url(#gBlue)" stroke="#9b94b4" stroke-width="0.6"/>
<line x1="593.63" y1="298.31" x2="593.63" y2="300.11" stroke="#8c95b0" stroke-width="0.6"/>
<circle cx="593.63" cy="298.31" r="0.8" fill="#a9cde9"/>
<line x1="602.63" y1="298.31" x2="602.63" y2="300.11" stroke="#8c95b0" stroke-width="0.6"/>
<circle cx="602.63" cy="298.31" r="0.8" fill="#a9cde9"/>
<line x1="594.63" y1="309.83" x2="594.63" y2="308.03" stroke="#8c95b0" stroke-width="0.6"/>
<circle cx="594.63" cy="309.83" r="0.8" fill="#a9cde9"/>
<line x1="604.63" y1="309.83" x2="604.63" y2="308.03" stroke="#8c95b0" stroke-width="0.6"/>
<circle cx="604.63" cy="309.83" r="0.8" fill="#a9cde9"/>
<circle cx="587.04" cy="304.07" r="0.8" fill="#a9cde9"/>
<circle cx="610.22" cy="304.07" r="0.8" fill="#a9cde9"/>
<rect x="588.54" y="299.91" width="20.18" height="8.32" rx="5.82" ry="4.16" transform="rotate(0 598.63 304.07)" fill="url(#gBlue)" stroke="#9b94b4" stroke-width="0.6"/>
<line x1="645.66" y1="301.58" x2="646.69" y2="303.06" stroke="#8c95b0" stroke-width="0.6"/>
<circle cx="645.66" cy="301.58" r="0.8" fill="#a9cde9"/>
<line x1="653.03" y1="296.42" x2="654.06" y2="297.90" stroke="#8c95b0" stroke-width="0.6"/>
<circle cx="653.03" cy="296.42" r="0.8" fill="#a9cde9"/>
<line x1="653.09" y1="310.45" x2="652.05" y2="308.97" stroke="#8c95b0" stroke-width="0.6"/>
<circle cx="653.09" cy="310.45" r="0.8" fill="#a9cde9"/>
<line x1="661.28" y1="304.71" x2="660.24" y2="303.24" stroke="#8c95b0" stroke-width="0.6"/>
<circle cx="661.28" cy="304.71" r="0.8" fill="#a9cde9"/>
<circle cx="643.57" cy="310.08" r="0.8" fill="#a9cde9"/>
<circle cx="662.55" cy="296.79" r="0.8" fill="#a9cde9"/>
<rect x="642.97" y="299.27" width="20.18" height="8.32" rx="5.82" ry="4.16" transform="rotate(-35 653.06 303.43)" fill="url(#gBlue)" stroke="#9b94b4" stroke-width="0.6"/>
<line x1="620.60" y1="307.97" x2="619.70" y2="309.53" stroke="#8c95b0" stroke-width="0.6"/>
<circle cx="620.60" cy="307.97" r="0.8" fill="#a9cde9"/>
<line x1="628.39" y1="312.47" x2="627.49" y2="314.03" stroke="#8c95b0" stroke-width="0.6"/>
<circle cx="628.39" cy="312.47" r="0.8" fill="#a9cde9"/>
<line x1="615.70" y1="318.45" x2="616.60" y2="316.89" stroke="#8c95b0" stroke-width="0.6"/>
<circle cx="615.70" cy="318.45" r="0.8" fill="#a9cde9"/>
<line x1="624.36" y1="323.45" x2="625.26" y2="321.89" stroke="#8c95b0" stroke-width="0.6"/>
<circle cx="624.36" cy="323.45" r="0.8" fill="#a9cde9"/>
<circle cx="612.01" cy="309.67" r="0.8" fill="#a9cde9"/>
<circle cx="632.08" cy="321.25" r="0.8" fill="#a9cde9"/>
<rect x="611.96" y="311.30" width="20.18" height="8.32" rx="5.82" ry="4.16" transform="rotate(30 622.05 315.46)" fill="url(#gBlue)" stroke="#9b94b4" stroke-width="0.6"/>
</g>
<rect x="590.40" y="254.70" width="70.5" height="69.8" fill="none" stroke="#2a2a2a" stroke-width="1.3"/>
<text x="580.80" y="74.70" font-size="12" text-anchor="middle" font-weight="bold" fill="#161616" >I</text>
<text x="580.80" y="147.50" font-size="12" text-anchor="middle" font-weight="bold" fill="#161616" >II</text>
<text x="580.80" y="219.80" font-size="12" text-anchor="middle" font-weight="bold" fill="#161616" >III</text>
<text x="580.80" y="291.70" font-size="12" text-anchor="middle" font-weight="bold" fill="#161616" >IV</text>
<path d="M660.90,85.90 L684.1,85.90 L684.1,127.50 L672.5,127.50" fill="none" stroke="#1a1a1a" stroke-width="1.3"/>
<path d="M668.4,127.50 L674.2,124.90 L674.2,130.10 Z" fill="#1a1a1a"/>
<path d="M660.90,159.00 L684.1,159.00 L684.1,201.00 L672.5,201.00" fill="none" stroke="#1a1a1a" stroke-width="1.3"/>
<path d="M668.4,201.00 L674.2,198.40 L674.2,203.60 Z" fill="#1a1a1a"/>
<path d="M660.90,232.80 L684.1,232.80 L684.1,275.40 L672.5,275.40" fill="none" stroke="#1a1a1a" stroke-width="1.3"/>
<path d="M668.4,275.40 L674.2,272.80 L674.2,278.00 Z" fill="#1a1a1a"/>
<text x="663.3" y="111.40" font-size="11" fill="#161616"><tspan class="o">1</tspan><tspan font-size="8" dy="-4.2">st</tspan></text>
<text x="663.3" y="184.40" font-size="11" fill="#161616">2<tspan font-size="8" dy="-4.2">nd</tspan></text>
<text x="663.3" y="257.20" font-size="11" fill="#161616">3<tspan font-size="8" dy="-4.2">rd</tspan></text>
<g transform="translate(29.00,176.30) rotate(-90)"><polygon points="66.16,2.40 65.46,2.40 65.46,-2.43 64.21,-1.55 64.21,-2.21 65.52,-3.10 66.16,-3.10" fill="#161616" stroke="#1c1c1c" stroke-width="0.3"/></g>
<polygon points="82.38,297.60 81.31,297.60 81.31,290.35 79.45,291.68 79.45,290.69 81.40,289.34 82.38,289.34" fill="#161616" stroke="#1c1c1c" stroke-width="0.3"/>
<polygon points="92.41,297.60 91.35,297.60 91.35,290.35 89.48,291.68 89.48,290.69 91.43,289.34 92.41,289.34" fill="#161616" stroke="#1c1c1c" stroke-width="0.3"/>
<polygon points="136.44,297.60 135.38,297.60 135.38,290.35 133.52,291.68 133.52,290.69 135.47,289.34 136.44,289.34" fill="#161616" stroke="#1c1c1c" stroke-width="0.3"/>
<polygon points="146.47,297.60 145.41,297.60 145.41,290.35 143.55,291.68 143.55,290.69 145.50,289.34 146.47,289.34" fill="#161616" stroke="#1c1c1c" stroke-width="0.3"/>
<polygon points="190.50,297.60 189.44,297.60 189.44,290.35 187.58,291.68 187.58,290.69 189.53,289.34 190.50,289.34" fill="#161616" stroke="#1c1c1c" stroke-width="0.3"/>
<polygon points="200.53,297.60 199.47,297.60 199.47,290.35 197.61,291.68 197.61,290.69 199.56,289.34 200.53,289.34" fill="#161616" stroke="#1c1c1c" stroke-width="0.3"/>
<polygon points="244.57,297.60 243.51,297.60 243.51,290.35 241.64,291.68 241.64,290.69 243.59,289.34 244.57,289.34" fill="#161616" stroke="#1c1c1c" stroke-width="0.3"/>
<polygon points="254.60,297.60 253.54,297.60 253.54,290.35 251.67,291.68 251.67,290.69 253.63,289.34 254.60,289.34" fill="#161616" stroke="#1c1c1c" stroke-width="0.3"/>
<polygon points="225.09,319.90 224.03,319.90 224.03,312.65 222.17,313.98 222.17,312.99 224.12,311.64 225.09,311.64" fill="#161616" stroke="#1c1c1c" stroke-width="0.3"/>
<polygon points="83.09,36.80 82.03,36.80 82.03,29.55 80.17,30.88 80.17,29.89 82.12,28.54 83.09,28.54" fill="#161616" stroke="#1c1c1c" stroke-width="0.3"/>
<polygon points="100.45,36.80 99.39,36.80 99.39,29.55 97.53,30.88 97.53,29.89 99.48,28.54 100.45,28.54" fill="#161616" stroke="#1c1c1c" stroke-width="0.3"/>
<polygon points="187.07,36.80 186.01,36.80 186.01,29.55 184.14,30.88 184.14,29.89 186.09,28.54 187.07,28.54" fill="#161616" stroke="#1c1c1c" stroke-width="0.3"/>
<g transform="translate(29.00,489.30) rotate(-90)"><polygon points="66.16,2.40 65.46,2.40 65.46,-2.43 64.21,-1.55 64.21,-2.21 65.52,-3.10 66.16,-3.10" fill="#161616" stroke="#1c1c1c" stroke-width="0.3"/></g>
<polygon points="97.66,610.70 96.60,610.70 96.60,603.45 94.74,604.78 94.74,603.79 96.69,602.44 97.66,602.44" fill="#161616" stroke="#1c1c1c" stroke-width="0.3"/>
<polygon points="169.01,364.50 167.95,364.50 167.95,357.25 166.09,358.58 166.09,357.59 168.04,356.24 169.01,356.24" fill="#161616" stroke="#1c1c1c" stroke-width="0.3"/>
<polygon points="179.04,364.50 177.98,364.50 177.98,357.25 176.12,358.58 176.12,357.59 178.07,356.24 179.04,356.24" fill="#161616" stroke="#1c1c1c" stroke-width="0.3"/>
<polygon points="241.78,364.50 240.72,364.50 240.72,357.25 238.85,358.58 238.85,357.59 240.80,356.24 241.78,356.24" fill="#161616" stroke="#1c1c1c" stroke-width="0.3"/>
<polygon points="237.89,423.70 236.83,423.70 236.83,416.45 234.97,417.78 234.97,416.79 236.92,415.44 237.89,415.44" fill="#161616" stroke="#1c1c1c" stroke-width="0.3"/>
<polygon points="255.25,423.70 254.19,423.70 254.19,416.45 252.33,417.78 252.33,416.79 254.28,415.44 255.25,415.44" fill="#161616" stroke="#1c1c1c" stroke-width="0.3"/>
<polygon points="261.77,440.20 260.71,440.20 260.71,432.95 258.84,434.28 258.84,433.29 260.79,431.94 261.77,431.94" fill="#161616" stroke="#1c1c1c" stroke-width="0.3"/>
<g transform="translate(366.60,489.30) rotate(-90)"><polygon points="66.16,2.40 65.46,2.40 65.46,-2.43 64.21,-1.55 64.21,-2.21 65.52,-3.10 66.16,-3.10" fill="#161616" stroke="#1c1c1c" stroke-width="0.3"/></g>
<polygon points="434.61,610.70 433.55,610.70 433.55,603.45 431.69,604.78 431.69,603.79 433.64,602.44 434.61,602.44" fill="#161616" stroke="#1c1c1c" stroke-width="0.3"/>
<polygon points="503.24,364.80 502.18,364.80 502.18,357.55 500.32,358.88 500.32,357.89 502.27,356.54 503.24,356.54" fill="#161616" stroke="#1c1c1c" stroke-width="0.3"/>
<polygon points="513.27,364.80 512.21,364.80 512.21,357.55 510.35,358.88 510.35,357.89 512.30,356.54 513.27,356.54" fill="#161616" stroke="#1c1c1c" stroke-width="0.3"/>
<polygon points="589.35,364.80 588.29,364.80 588.29,357.55 586.42,358.88 586.42,357.89 588.38,356.54 589.35,356.54" fill="#161616" stroke="#1c1c1c" stroke-width="0.3"/>
<polygon points="430.49,388.80 429.43,388.80 429.43,381.55 427.57,382.88 427.57,381.89 429.52,380.54 430.49,380.54" fill="#161616" stroke="#1c1c1c" stroke-width="0.3"/>
<polygon points="447.85,388.80 446.79,388.80 446.79,381.55 444.93,382.88 444.93,381.89 446.88,380.54 447.85,380.54" fill="#161616" stroke="#1c1c1c" stroke-width="0.3"/>
<polygon points="535.77,388.80 534.71,388.80 534.71,381.55 532.84,382.88 532.84,381.89 534.79,380.54 535.77,380.54" fill="#161616" stroke="#1c1c1c" stroke-width="0.3"/>
<polygon points="503.91,66.30 502.85,66.30 502.85,59.05 500.98,60.38 500.98,59.39 502.93,58.04 503.91,58.04" fill="#161616" stroke="#1c1c1c" stroke-width="0.3"/>
<polygon points="341.09,113.00 340.03,113.00 340.03,105.75 338.17,107.08 338.17,106.09 340.12,104.74 341.09,104.74" fill="#161616" stroke="#1c1c1c" stroke-width="0.3"/>
<polygon points="358.45,113.00 357.39,113.00 357.39,105.75 355.53,107.08 355.53,106.09 357.48,104.74 358.45,104.74" fill="#161616" stroke="#1c1c1c" stroke-width="0.3"/>
<polygon points="499.59,113.00 498.53,113.00 498.53,105.75 496.67,107.08 496.67,106.09 498.62,104.74 499.59,104.74" fill="#161616" stroke="#1c1c1c" stroke-width="0.3"/>
<polygon points="516.95,113.00 515.89,113.00 515.89,105.75 514.03,107.08 514.03,106.09 515.98,104.74 516.95,104.74" fill="#161616" stroke="#1c1c1c" stroke-width="0.3"/>
<polygon points="549.99,125.70 548.93,125.70 548.93,118.45 547.07,119.78 547.07,118.79 549.02,117.44 549.99,117.44" fill="#161616" stroke="#1c1c1c" stroke-width="0.3"/>
<polygon points="667.04,111.40 666.07,111.40 666.07,104.76 664.36,105.98 664.36,105.06 666.15,103.83 667.04,103.83" fill="#161616" stroke="#1c1c1c" stroke-width="0.3"/>
</svg>
</body></html>
